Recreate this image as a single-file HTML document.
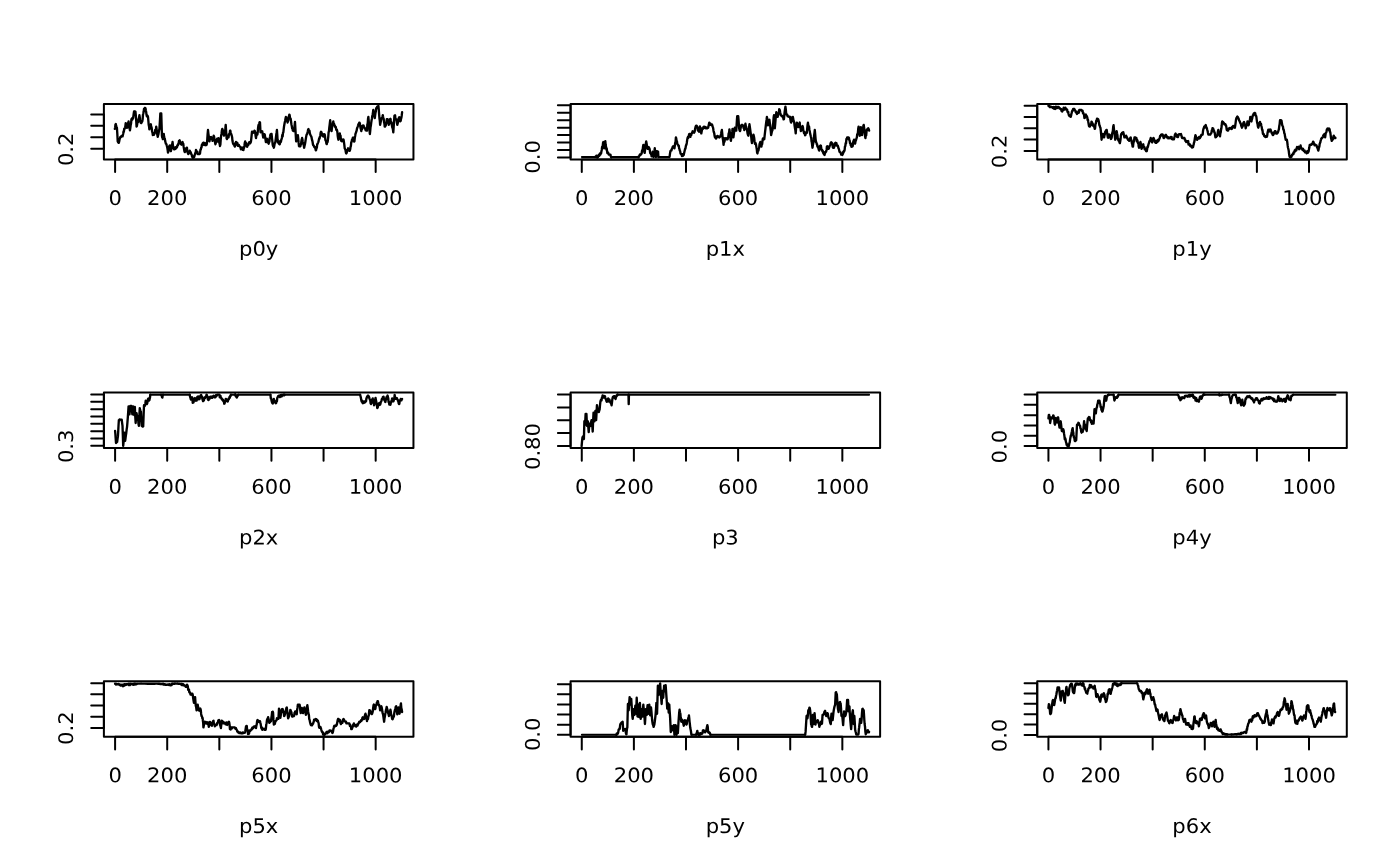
<!DOCTYPE html>
<html lang="en"><head><meta charset="utf-8"><title>plots</title>
<style>
html,body{margin:0;padding:0;background:#fff}
body{width:1400px;height:866px;overflow:hidden}
svg{display:block}
text{font-family:"DejaVu Sans","Liberation Sans",sans-serif;font-size:21.1px;fill:#000}
.l{fill:none;stroke:#000;stroke-width:2.35;stroke-linecap:round;stroke-linejoin:round}
.b{fill:none;stroke:#000;stroke-width:2.0;stroke-linecap:round;stroke-linejoin:round}
</style></head><body>
<svg width="1400" height="866" viewBox="0 0 1400 866">
<rect width="1400" height="866" fill="#fff"/>
<g id="panel0">
<polyline class="l" points="114.86,128.86 115.16,127.46 115.47,124.48 115.77,124.06 116.15,125.88 116.53,126.93 116.91,127.71 117.31,133.6 117.71,141.43 118.1,142.08 118.48,142.76 118.86,142.8 119.24,141.14 119.62,139.24 120,138 120.32,137.01 120.63,136.83 120.95,137.09 121.27,136.44 121.59,135.92 121.9,135.87 122.22,135.84 122.54,136.37 122.86,135.14 123.2,133.74 123.54,131.4 123.89,131.67 124.23,128.67 124.57,128.86 124.95,127.8 125.33,126.55 125.71,123.14 126.1,124.96 126.48,124.91 126.86,127.94 127.2,126.93 127.54,127.49 127.89,123.27 128.23,123.29 128.57,121.43 128.91,124.74 129.26,126.2 129.6,128.33 129.94,130.23 130.31,128.04 130.69,125.07 131.06,123.48 131.43,119.14 131.77,119.08 132.11,118.33 132.46,119.54 132.8,117.73 133.14,118 133.45,115.67 133.75,113.47 134.06,111.49 134.4,111.77 134.74,111.49 135.09,111.49 135.43,111.71 135.81,115.42 136.19,120.46 136.57,126.57 136.91,125.88 137.26,123.8 137.6,122.25 137.94,122.24 138.29,120.86 138.67,118.82 139.05,117.75 139.43,115.14 139.81,117.74 140.19,120.08 140.57,122.57 140.91,122.97 141.26,122.97 141.6,122.48 141.94,121.96 142.29,121.43 142.63,119.39 142.97,114.7 143.31,113.51 143.66,111.77 144,108.86 144.37,109.26 144.74,107.98 145.11,107.89 145.49,108.29 145.83,110.27 146.17,111.9 146.51,114.83 146.86,116.29 147.24,116.56 147.62,115.89 148,116.86 148.34,120.49 148.69,124.69 149.03,126.34 149.37,129.43 149.74,126.54 150.11,127.4 150.49,125.33 150.86,124.29 151.18,127.16 151.5,127.05 151.83,129.11 152.15,131.89 152.48,132.34 152.8,135.14 153.14,134.36 153.49,134.85 153.83,134.8 154.17,134.47 154.51,132.96 154.86,132.86 155.2,129.86 155.54,130.8 155.89,130.03 156.23,126.57 156.6,128.97 156.97,133.23 157.34,134.75 157.71,136.86 158.06,135.48 158.4,134.36 158.74,132.33 159.09,130.21 159.43,128.86 159.73,124.14 160.04,119.04 160.34,113.43 161.26,113.43 161.6,124.76 161.94,135.71 162.25,137.56 162.55,137.83 162.86,139.14 163.16,136.31 163.47,136.45 163.77,134 164.11,136.86 164.46,138.38 164.8,138.65 165.14,140.86 165.49,142.34 165.83,143.72 166.17,143.83 166.51,144.42 166.86,146 167.24,147.36 167.62,149.7 168,152.63 168.34,151.22 168.69,150.19 169.03,148.45 169.37,145.89 169.71,145.43 170.1,146.49 170.48,149.58 170.86,151.14 171.2,149.64 171.54,146 171.89,144.51 172.23,144.6 172.57,142 172.95,145.92 173.33,146.6 173.71,148.86 174.04,149.26 174.37,148.98 174.69,149.26 175.02,148.17 175.35,148.96 175.67,147.31 176,147.71 176.33,148.11 176.65,147.09 176.98,147.27 177.31,145.42 177.63,145.02 177.96,145.11 178.29,143.71 178.63,143.81 178.97,140.94 179.31,141.47 179.66,140.29 180.03,142.73 180.4,142.23 180.77,143.38 181.14,144.29 181.49,144.68 181.83,142.72 182.17,142.55 182.51,142 182.89,143.28 183.26,143.69 183.63,146.64 184,148.86 184.38,151.06 184.76,152.11 185.14,151.71 185.51,149.78 185.89,148.83 186.26,148.23 186.63,147.71 186.95,147.7 187.27,150.59 187.59,152.51 187.91,152.78 188.23,154 188.6,153.52 188.97,151.61 189.34,153.05 189.71,150.57 190.06,152.23 190.4,151.84 190.74,152.6 191.09,153.43 191.43,154.57 191.77,154.85 192.11,156.83 192.46,155.99 192.8,157.83 193.14,157.43 193.52,157.63 193.9,156.46 194.29,156.86 194.63,155.08 194.97,154.39 195.31,152.97 195.66,152.85 196,150 196.34,150.78 196.69,151.92 197.03,152.29 197.37,151.76 197.71,154 199.66,154 200.03,153.26 200.4,149.8 200.77,149.84 201.14,147.71 201.49,147.52 201.83,145 202.17,145.33 202.51,143.71 202.86,143.14 203.2,142.74 203.54,143.3 203.89,142.74 204.23,144.97 204.57,144.86 204.9,143.39 205.22,143.31 205.55,145.06 205.88,145.26 206.2,143.79 206.53,144.88 206.86,143.71 207.24,139.76 207.62,134.02 208,130 208.38,133.56 208.76,136.26 209.14,140.86 209.47,141.26 209.8,139.46 210.12,138.68 210.45,138.46 210.78,137.17 211.1,137.03 211.43,137.43 211.81,139.13 212.19,139.22 212.57,140.86 212.95,139.31 213.33,138.31 213.71,135.71 214.06,136.43 214.4,138.81 214.74,139.46 215.09,142.69 215.43,144.29 215.77,142.89 216.11,141.88 216.46,142.2 216.8,141.03 217.14,138.57 217.49,139.28 217.83,139.71 218.17,141.26 218.51,138.23 218.86,140.86 219.24,142.56 219.62,143.71 220,146 220.38,144.57 220.76,139.02 221.14,135.71 221.52,133.72 221.9,130.29 222.29,128.86 222.63,130.26 222.97,131.34 223.31,133.29 223.66,134.73 224,135.71 224.34,133.16 224.69,130.63 225.03,129.58 225.37,128.16 225.71,124.86 226.02,129.75 226.32,134.13 226.63,138.57 226.95,138.97 227.28,137.36 227.6,137.78 227.92,137.03 228.25,137.5 228.57,137.43 228.91,134.06 229.26,134.8 229.6,134 229.94,131.04 230.29,130.57 230.67,132.56 231.05,133.83 231.43,134.57 231.77,135.73 232.11,137.22 232.46,140.79 232.8,142.36 233.14,143.71 233.49,144.09 233.83,144.87 234.17,143.67 234.51,146.13 234.86,146.57 235.24,145.47 235.62,144.19 236,142 236.33,142.67 236.65,143.93 236.98,143.21 237.31,142.8 237.63,145.31 237.96,145.83 238.29,145.43 238.61,145.03 238.94,145.03 239.27,146.18 239.59,146.46 239.92,146.79 240.24,146.72 240.57,147.71 240.89,149.3 241.21,148.59 241.52,147.67 241.84,148.45 242.16,148.17 242.48,148.91 242.79,149.87 243.11,147.45 243.43,150 243.77,147.56 244.11,147.64 244.46,145.5 244.8,142.71 245.14,141.43 245.49,143.39 245.83,142.86 246.17,144.34 246.51,145.97 246.86,146.57 247.2,146.73 247.54,145.59 247.89,144.12 248.23,145.19 248.57,143.71 248.9,142.43 249.22,142.74 249.55,142.22 249.88,141.9 250.2,143.4 250.53,142.17 250.86,142 251.24,139.05 251.62,135.32 252,131.71 252.34,131.98 252.69,132.69 253.03,131.73 253.37,132.69 253.71,132.29 254.1,132.06 254.48,130.74 254.86,131.14 255.24,132.49 255.62,136.13 256,138 256.34,135.64 256.69,134.72 257.03,134.45 257.37,134.49 257.71,132.29 258.1,127.65 258.48,125.14 258.86,124.29 259.24,123.34 259.62,122.17 260,122.57 260.49,132.29 260.83,132.19 261.17,130.97 261.51,131.35 261.86,131.14 262.2,131.35 262.54,133 262.89,135.63 263.23,137.49 263.57,137.43 263.95,136.17 264.33,134.17 264.71,134.57 265.1,136.81 265.48,139.34 265.86,142 266.23,141.75 266.6,141.93 266.97,138.79 267.34,139.14 267.69,140.78 268.03,140.77 268.37,143.09 268.71,143.71 269.06,141.08 269.4,141.77 269.74,138.1 270.09,136.48 270.43,134.57 270.81,134.03 271.19,133.92 271.57,134 271.95,138.07 272.33,140.92 272.71,144.86 273.1,146.29 273.48,145.84 273.86,147.71 274.2,146.25 274.54,144.28 274.89,143.01 275.23,142.78 275.57,140.29 275.91,137.57 276.26,134.64 276.6,132.52 276.94,130 277.25,134.54 277.55,139.48 277.86,142 278.2,142.56 278.54,141.6 278.89,143.7 279.23,144.05 279.57,144.29 279.91,143.75 280.26,141.03 280.6,141.99 280.94,141.75 281.29,139.71 281.63,138.99 281.97,137.45 282.31,134.94 282.66,136.28 283,132.86 283.34,132.45 283.69,129.16 284.03,126.35 284.37,124.55 284.71,122.57 285.1,120.91 285.48,118.74 285.86,116.86 286.2,117.68 286.54,119.3 286.89,120.24 287.23,121.05 287.57,122.57 287.91,121.19 288.26,120.65 288.6,116.77 288.94,117.6 289.29,114.57 289.63,114.95 289.97,117.67 290.31,118.44 290.66,118.57 291.03,121.23 291.4,124.15 291.77,125.88 292.14,128.29 292.49,128.5 292.83,130.67 293.17,128.83 293.51,130.94 293.86,131.14 294.24,129.04 294.62,125.36 295,122 295.38,128.56 295.76,135.3 296.14,141.43 296.49,140.01 296.83,138 297.17,138.26 297.51,137.48 297.86,135.14 298.24,138.3 298.62,142.63 299,146 299.34,146.34 299.69,144.97 300.03,145.06 300.37,146.36 300.71,144.86 301.06,144.09 301.4,141 301.74,139.65 302.09,138 302.43,139.32 302.77,141.88 303.11,143.55 303.46,144.19 303.8,145.47 304.14,147.71 304.49,145.91 304.83,144.69 305.17,143.03 305.51,140.78 305.86,138.57 306.18,136.63 306.51,135.02 306.84,134.26 307.16,134.11 307.49,132.4 307.82,131.3 308.14,129.43 308.49,129.03 308.83,131.34 309.17,131.47 309.51,130.88 309.86,133.43 310.2,134.44 310.54,135.09 310.89,135.85 311.23,136.38 311.57,137.43 311.91,139.38 312.26,140.58 312.6,142.03 312.94,144.33 313.29,145.43 313.63,145.37 313.97,146.21 314.31,147.2 314.66,146.82 315,147.14 315.38,148.44 315.76,150.4 316.14,150 316.49,147.42 316.83,147.86 317.17,144.37 317.51,144 317.86,143.14 318.2,142.35 318.54,141.38 318.89,139.62 319.23,138.17 319.57,138.57 319.94,136.47 320.31,135.76 320.69,132.58 321.06,131.71 321.38,132.04 321.7,133.24 322.03,133.75 322.35,135.16 322.68,136.05 323,136.29 323.34,135.97 323.69,136.4 324.03,134.17 324.37,134.67 324.71,134.57 325.06,136.63 325.4,140.19 325.74,140.56 326.09,141.45 326.43,143.71 326.81,144.11 327.19,142.02 327.57,142 327.91,139.85 328.26,136.82 328.6,132.1 328.94,131.54 329.29,127.71 329.59,125.28 329.9,122.7 330.2,120.29 330.54,124.75 330.89,125.7 331.23,128.69 331.57,131.14 331.91,128.02 332.26,126.49 332.6,125.41 332.94,122.81 333.29,121.43 333.63,123.72 333.97,123.64 334.31,124.65 334.66,125.11 335,126.57 335.34,127.12 335.69,126.79 336.03,128.57 336.37,129.83 336.71,129.43 337.06,130.37 337.4,132.24 337.74,136.09 338.09,138.37 338.43,139.71 338.77,138.24 339.11,136.7 339.46,135.95 339.8,133.43 340.17,137.04 340.54,135.61 340.91,139.49 341.29,140.86 341.61,139.79 341.94,141.26 342.27,140.6 342.59,140.01 342.92,139.31 343.24,139.31 343.57,139.71 343.95,142.13 344.33,144.87 344.71,148.29 345.06,149.05 345.4,149.47 345.74,151.66 346.09,153.32 346.43,153.43 346.77,152.59 347.11,149.92 347.46,150.6 347.8,150.19 348.14,148.29 348.49,149.46 348.83,149.57 349.17,149.32 349.51,150.91 349.86,150.57 350.2,149.28 350.54,146.84 350.89,145.99 351.23,142.37 351.57,142 351.95,139.97 352.33,139.61 352.71,138 353.06,137.6 353.4,138.28 353.74,138.96 354.09,141.57 354.43,141.43 354.81,137.77 355.19,135.77 355.57,133.43 355.91,132.92 356.26,131.55 356.6,130.83 356.94,128.79 357.29,127.71 357.61,126.87 357.94,125.87 358.27,124.75 358.59,123.95 358.92,124.19 359.24,122.61 359.57,122.57 359.91,123.53 360.26,126.27 360.6,128.34 360.94,129.24 361.29,131.14 361.63,128.79 361.97,129.33 362.31,126 362.66,126.39 363,125.43 363.33,126.8 363.65,125.63 363.98,127.36 364.31,127.19 364.63,127.87 364.96,128.69 365.29,128.29 365.63,130.23 365.97,129.65 366.31,130.6 366.66,130.25 367,130.57 367.34,124.36 367.69,123.48 368.03,118.76 368.37,116.86 368.74,121.01 369.11,126.25 369.49,129.58 369.86,134 370.2,131.2 370.54,127.2 370.89,125.43 371.23,122.58 371.57,120.29 371.91,118.7 372.26,116.03 372.6,114.68 372.94,112.62 373.29,110 373.66,111.97 374.03,113.11 374.4,115.73 374.77,118 375.11,115.56 375.46,112.94 375.8,111.55 376.14,108.29 376.47,107.88 376.8,107.97 377.12,106.93 377.45,106.37 377.78,108.03 378.1,107.29 378.43,106 378.77,109.51 379.11,114.27 379.46,118.52 379.8,120.54 380.14,124.86 380.52,122.85 380.9,121.04 381.29,119.14 381.66,118.38 382.03,117.5 382.4,116.84 382.77,115.14 383.1,116.73 383.42,118.07 383.74,119.15 384.07,122.36 384.39,123.47 384.71,126.57 385.06,126.51 385.4,123.26 385.74,125.61 386.09,122.84 386.43,122.57 386.81,119.12 387.19,120.41 387.57,119.14 387.95,120.76 388.33,123.13 388.71,124.86 389.06,123.98 389.4,123.49 389.74,120.75 390.09,119.14 390.46,118.74 390.83,120.74 391.2,122.2 391.57,122.57 391.91,125.56 392.26,127.21 392.6,128.1 392.94,129.51 393.29,132.29 393.67,127.09 394.05,121.3 394.43,115.71 394.77,116 395.11,115.31 395.46,119.3 395.8,118.9 396.14,119.14 396.52,119.57 396.9,122.68 397.29,124.86 397.63,123.47 397.97,122.55 398.31,120.38 398.66,118.89 399,117.43 399.34,117.19 399.69,118.38 400.03,119.14 400.37,121.26 400.71,120.86 401.06,118.5 401.4,117.69 401.74,115.38 402.09,112.29"/>
<rect class="b" x="103.89" y="103.89" width="309.56" height="55.54"/>
<path class="b" d="M115.1,159.43v12.67M167.21,159.43v12.67M219.33,159.43v12.67M271.44,159.43v12.67M323.56,159.43v12.67M375.67,159.43v12.67M103.89,114.39h-12.67M103.89,125.84h-12.67M103.89,137.19h-12.67M103.89,148.74h-12.67M115.1,159.43H375.67M103.89,114.39V148.74"/>
<text transform="translate(115.1,205.04) rotate(0.1) scale(1,0.955)" text-anchor="middle">0</text>
<text transform="translate(167.21,205.04) rotate(0.1) scale(1,0.955)" text-anchor="middle">200</text>
<text transform="translate(271.44,205.04) rotate(0.1) scale(1,0.955)" text-anchor="middle">600</text>
<text transform="translate(375.67,205.04) rotate(0.1) scale(1,0.955)" text-anchor="middle">1000</text>
<text transform="translate(258.67,255.72) rotate(0.1) scale(1,0.955)" text-anchor="middle">p0y</text>
<text transform="translate(73.09,149.29) rotate(-89.9) scale(1,0.955)" text-anchor="middle">0.2</text>
</g>
<g id="panel1">
<polyline class="b" points="581.86,157.09 595,157.09"/>
<polyline class="l" points="595,157.09 595.34,156.96 595.69,156.41 596.03,156.57 596.37,155.66 596.71,156.06 597.1,157.49 597.48,157.49 597.86,157.09 598.2,156.77 598.54,155.28 598.89,154.76 599.23,155.9 599.57,154.57 599.94,153.44 600.31,154.61 600.69,153.51 601.06,153.43 601.4,151.55 601.74,149.9 602.09,147.03 602.43,146.57 602.73,146.17 603.04,142.93 603.34,142 603.74,144.41 604.14,148.29 604.52,144.84 604.9,143.92 605.29,141.2 605.69,145.04 606.09,147.14 606.39,149.73 606.7,148.31 607,150.57 607.34,153 607.69,152.37 608.03,152.44 608.37,153.15 608.71,154.57 610.43,154.57 610.81,156.5 611.19,157.41 611.57,157.09"/>
<polyline class="b" points="611.57,157.09 637.86,157.09"/>
<polyline class="l" points="637.86,157.09 638.2,156.67 638.54,157.38 638.89,156.83 639.23,156 639.57,155.14 639.91,154.38 640.26,155.12 640.6,154.57 640.94,154.41 641.29,154 641.67,153.43 642.05,150.55 642.43,150 642.73,149.34 643.04,146.61 643.34,144.86 643.69,146.91 644.03,148.32 644.37,152.25 644.71,152.86 645.09,149.34 645.46,144.83 645.83,143.71 646.2,141.43 646.54,143.33 646.89,145.36 647.23,146.65 647.57,148.86 647.95,148.65 648.33,148.09 648.71,147.14 649.1,148.15 649.48,148.47 649.86,150.57 650.2,152.99 650.54,153.19 650.89,154.09 651.23,154.39 651.57,156.29 651.95,154.67 652.33,154.42 652.71,151.71 653.11,154.56 653.51,157.09 653.83,155.03 654.14,152.46 654.46,150.77 654.77,148.29 655.15,151.51 655.53,153.01 655.91,157.09 656.31,154.3 656.71,151.14 657.06,151.17 657.4,152.11 657.74,152.11 658.09,151.71 658.43,157.09"/>
<polyline class="b" points="658.43,157.09 669.29,157.09"/>
<polyline class="l" points="669.29,157.09 669.67,156.08 670.05,153.19 670.43,151.14 670.77,150.96 671.11,150.31 671.46,150.4 671.8,149.16 672.14,148.29 672.52,147.48 672.9,146.39 673.29,146.57 673.67,146.51 674.05,146.33 674.43,148.29 674.8,145.79 675.17,142.84 675.54,141.86 675.91,137.43 676.26,138.62 676.6,141.27 676.94,141.14 677.29,143.71 677.67,144.46 678.05,144.84 678.43,146 678.77,145.61 679.11,148.41 679.46,148.86 679.8,150.67 680.14,151.14 680.52,153.54 680.9,153.56 681.29,154.57 681.63,154.2 681.97,156.11 682.31,154.18 682.66,155.85 683,155.71 683.34,154.84 683.69,154.98 684.03,153.53 684.37,152.01 684.71,150.57 685.06,148.99 685.4,148.7 685.74,146.8 686.09,145.04 686.43,144.86 686.81,142.77 687.19,139.92 687.57,138 687.91,137.01 688.26,137.96 688.6,136.22 688.94,134.99 689.29,134 689.67,134.03 690.05,135.15 690.43,136.86 690.81,134.5 691.19,135.12 691.57,133.43 691.91,133.32 692.26,132.51 692.6,131.31 692.94,131.65 693.29,131.71 693.67,132.06 694.05,132.69 694.43,132.29 694.8,130.96 695.17,128.5 695.54,126.99 695.91,126 696.26,125.6 696.6,125.6 696.94,126.24 697.29,127.14 697.63,128.12 697.97,130.59 698.31,128.6 698.66,129.1 699,131.71 699.3,130.29 699.61,127.75 699.91,126.34 700.26,128.28 700.6,128.1 700.94,131.38 701.29,133.43 701.67,131.51 702.05,129.49 702.43,128.29 702.77,128.69 703.11,128.69 703.46,126.94 703.8,126.74 704.14,127.14 704.49,127.07 704.83,126.74 705.17,127.95 705.51,127.15 705.86,128.29 706.18,128.32 706.51,128.33 706.84,127.73 707.16,127.87 707.49,128.2 707.82,127.56 708.14,127.71 708.52,126.03 708.9,124.24 709.29,122.57 709.66,124.33 710.03,124.81 710.4,123.63 710.77,124.86 711.09,124.9 711.41,124.7 711.73,125.08 712.05,124.46 712.37,126 712.74,126.94 713.11,127.88 713.49,130.68 713.86,132.29 714.24,133.24 714.62,135.98 715,137.43 715.38,137.34 715.76,137.88 716.14,138.57 716.49,136.46 716.83,137.34 717.17,137.14 717.51,136 717.86,136.29 718.2,136.69 718.54,136.92 718.89,136.5 719.23,137.46 719.57,137.43 719.95,136.38 720.33,136.54 720.71,135.71 721.1,133.8 721.48,131.5 721.86,130 722.26,133.57 722.66,138 722.96,139.6 723.27,141.86 723.57,144.86 723.91,141.56 724.26,142.07 724.6,141.18 724.94,138.23 725.29,138.57 725.63,139.05 725.97,138.17 726.31,139.05 726.66,139.27 727,139.14 727.32,138.68 727.64,139.21 727.96,137.83 728.29,136.86 728.67,133.41 729.05,133.29 729.43,129.43 729.8,132.06 730.17,134.94 730.54,139.07 730.91,140.86 731.23,138.4 731.55,136.48 731.87,133.75 732.19,131.98 732.51,128.86 732.82,130.22 733.12,134.54 733.43,137.43 733.77,134.51 734.11,132.06 734.46,131.11 734.8,127.71 735.17,129.37 735.54,128.41 735.91,129.2 736.29,130.57 736.59,125.68 736.9,120.3 737.2,116.29 738.23,116.29 738.53,119.97 738.84,124.24 739.14,128.29 739.54,130.25 739.94,131.14 740.26,130.61 740.57,128.45 740.89,127 741.2,125.43 741.54,124.97 741.89,125.83 742.23,124.96 742.57,124.86 742.91,125.83 743.26,126.21 743.6,128.1 743.94,127.91 744.29,130 744.67,127.74 745.05,125.82 745.43,123.71 745.8,126.03 746.17,126.82 746.54,129.05 746.91,128.86 747.26,131.33 747.6,133.58 747.94,134.76 748.29,135.71 748.67,130.93 749.05,127.57 749.43,124.29 749.81,126.8 750.19,129.53 750.57,132.29 750.91,134.49 751.26,137.23 751.6,140.92 751.94,143.14 752.31,140.34 752.69,139.86 753.06,136.8 753.43,134.57 753.81,136.08 754.19,138 754.57,141.43 754.94,143.83 755.31,142.51 755.69,143.64 756.06,144.86 756.4,147.13 756.74,148.92 757.09,152.48 757.43,153.43 757.77,151.51 758.11,150.74 758.46,150.7 758.8,148.29 759.17,147.61 759.54,144.11 759.91,143.32 760.29,142 760.67,143.14 761.05,144.41 761.43,146.57 761.8,144.28 762.17,144.05 762.54,140.3 762.91,138.57 763.26,138.37 763.6,139.54 763.94,138.71 764.29,139.14 764.67,135.36 765.05,132.2 765.43,128.86 765.8,125.76 766.17,122.56 766.54,120.01 766.91,116.86 767.26,118.68 767.6,122.34 767.94,125.43 768.31,122.61 768.69,124.65 769.06,120.33 769.43,119.71 769.77,122.59 770.11,124.6 770.46,128.56 770.8,131.07 771.14,135.14 771.49,133.41 771.83,131.83 772.17,130.74 772.51,130 772.89,126.46 773.26,122.56 773.63,117.5 774,115.14 774.4,121.51 774.8,128.29 775.17,124.41 775.54,119.58 775.91,115.82 776.29,112.29 776.63,114.26 776.97,114.49 777.31,115.14 777.66,116.86 777.96,115.64 778.27,114.53 778.57,112.97 778.88,113.03 779.18,109.22 779.49,109.43 779.83,110.17 780.17,112.53 780.51,113.7 780.86,115.14 781.2,115.71 781.54,115.83 781.89,115.65 782.23,116.31 782.57,116.86 782.91,116.9 783.26,117.92 783.6,119.43 783.94,119.14 784.31,115.22 784.69,111.63 785.06,108.99 785.43,106.57 785.81,109.35 786.19,113.53 786.57,114.57 786.91,114.32 787.26,114.63 787.6,116.39 787.94,116.23 788.29,116.29 788.63,116.48 788.97,116.75 789.31,116.56 789.66,116.65 790,116.86 790.38,119.22 790.76,121.68 791.14,122.57 791.49,121.62 791.83,121.09 792.17,117.1 792.51,118.54 792.86,116.86 793.2,118.58 793.54,120.79 793.89,121.28 794.23,122.57 794.6,125.75 794.97,128.16 795.34,129.95 795.71,133.43 796.1,128.2 796.48,126.7 796.86,122.57 797.2,124.44 797.54,123.83 797.89,126.27 798.23,127.14 798.6,125.49 798.97,124.77 799.34,123.77 799.71,122.57 800.1,127.27 800.48,127.98 800.86,131.14 801.2,130.3 801.54,129.48 801.89,128.64 802.23,126.82 802.57,126 802.95,127.4 803.33,130.65 803.71,131.71 804.06,133.1 804.4,131.89 804.74,133.28 805.09,135.25 805.43,135.14 805.77,133.27 806.11,132.76 806.46,133.04 806.8,132.86 807.18,129.03 807.56,124.88 807.94,122.57 808.31,125.36 808.69,126.41 809.06,126.63 809.43,130 809.8,131.53 810.17,133.87 810.54,135.18 810.91,136.86 811.23,137.9 811.55,141.42 811.87,142.54 812.19,145.49 812.51,147.71 812.83,145.33 813.14,143.7 813.46,141.99 813.77,139.71 814.11,135.71 814.46,132.86 814.8,130 815.18,133.99 815.56,138.82 815.94,142 816.31,142.26 816.69,143.96 817.06,144.22 817.43,146.57 817.77,146.17 818.11,147.5 818.46,148.25 818.8,149.86 819.14,150.57 819.49,149.96 819.83,147.04 820.17,145.83 820.51,145.43 820.89,145.67 821.26,148.15 821.63,149.12 822,150 822.33,151.22 822.65,150.46 822.98,152.1 823.31,153.29 823.63,152.05 823.96,154.31 824.29,154.57 824.63,154.91 824.97,152.22 825.31,152.81 825.66,152.14 826,151.71 826.3,150.98 826.61,149.66 826.91,146.57 827.23,146.17 827.55,147.87 827.87,147.03 828.19,148.77 828.51,148.86 828.89,148.31 829.26,147.1 829.63,145.91 830,145.43 830.37,144.37 830.74,142.83 831.11,142.32 831.49,142.57 831.81,143.47 832.13,143.16 832.46,144.36 832.78,147.18 833.1,147.87 833.43,147.71 833.77,147.81 834.11,147.23 834.46,145.76 834.8,143.68 835.14,143.14 835.47,142.74 835.8,144.5 836.12,145.32 836.45,143.17 836.78,145.69 837.1,145.36 837.43,145.43 837.77,145.74 838.11,146.68 838.46,148.11 838.8,148.76 839.14,150 839.49,151.69 839.83,151.88 840.17,152.29 840.51,152.43 840.86,153.43 841.2,154.55 841.54,153.83 841.89,154.42 842.23,154.97 842.57,154.57 842.91,153.75 843.26,151.7 843.6,152.48 843.94,151.02 844.29,151.14 844.63,149.91 844.97,146.32 845.31,146.17 845.66,143.14 846.03,143.51 846.4,139.02 846.77,139.54 847.14,137.43 848.63,137.43 848.97,137.91 849.31,140.2 849.66,140.57 850,143.14 850.33,143 850.65,145.01 850.98,143.73 851.31,146.74 851.63,146.03 851.96,146.04 852.29,146.57 852.63,146.15 852.97,144.53 853.31,141.31 853.66,140.87 854,139.71 854.38,142.48 854.76,142.59 855.14,143.71 855.49,141.22 855.83,140.7 856.17,139.44 856.51,138.33 856.86,137.43 857.2,134.39 857.54,134.05 857.89,132.76 858.23,128.62 858.57,126.57 858.95,129.88 859.33,133.32 859.71,135.71 860.1,133.07 860.48,131.72 860.86,127.14 861.24,130.39 861.62,131.08 862,135.14 862.34,131.95 862.69,131.66 863.03,128.89 863.37,125.78 863.71,124.86 864.06,127.36 864.4,129.62 864.74,133.66 865.09,136.41 865.43,138 865.8,134.98 866.17,135.5 866.54,131.44 866.91,129.43 867.26,129.83 867.6,129.83 867.94,128.3 868.29,128.29 868.69,129.03 869.09,130.57"/>
<rect class="b" x="570.56" y="103.89" width="309.56" height="55.54"/>
<path class="b" d="M581.77,159.43v12.67M633.88,159.43v12.67M685.99,159.43v12.67M738.11,159.43v12.67M790.22,159.43v12.67M842.34,159.43v12.67M570.56,105.29h-12.67M570.56,112.75h-12.67M570.56,120.21h-12.67M570.56,127.67h-12.67M570.56,135.12h-12.67M570.56,142.58h-12.67M570.56,150.04h-12.67M570.56,157.49h-12.67M581.77,159.43H842.34M570.56,105.29V157.49"/>
<text transform="translate(581.77,205.04) rotate(0.1) scale(1,0.955)" text-anchor="middle">0</text>
<text transform="translate(633.88,205.04) rotate(0.1) scale(1,0.955)" text-anchor="middle">200</text>
<text transform="translate(738.11,205.04) rotate(0.1) scale(1,0.955)" text-anchor="middle">600</text>
<text transform="translate(842.34,205.04) rotate(0.1) scale(1,0.955)" text-anchor="middle">1000</text>
<text transform="translate(725.34,255.72) rotate(0.1) scale(1,0.955)" text-anchor="middle">p1x</text>
<text transform="translate(539.75,156.94) rotate(-89.9) scale(1,0.955)" text-anchor="middle">0.0</text>
</g>
<g id="panel2">
<polyline class="l" points="1048.43,105.77 1048.77,105.37 1049.11,106.12 1049.46,106.53 1049.8,107.1 1050.14,106.91 1050.46,106.61 1050.78,107.05 1051.1,106.78 1051.41,106.84 1051.73,107.09 1052.05,107.25 1052.37,107.34 1052.68,107.77 1053,107.37 1053.34,106.97 1053.69,108.46 1054.03,107.66 1054.37,107.36 1054.71,108.86 1055.06,108.98 1055.4,108.94 1055.74,106.76 1056.09,106.74 1056.43,107.14 1056.76,107.06 1057.08,108.11 1057.41,107.67 1057.73,107.07 1058.06,106.74 1058.39,107.19 1058.71,107.71 1059.06,107.33 1059.4,108.41 1059.74,108.51 1060.09,108.28 1060.43,108.86 1060.81,109.39 1061.19,109.25 1061.57,111.14 1061.91,109.6 1062.26,111.54 1062.6,110.1 1062.94,109.93 1063.29,110 1063.67,107.66 1064.05,109.7 1064.43,108.06 1064.76,109.51 1065.08,109.19 1065.41,107.66 1065.73,108.41 1066.06,109.33 1066.39,109.07 1066.71,109.43 1067.1,109.56 1067.48,111.74 1067.86,112.29 1068.23,111.89 1068.6,114.07 1068.97,115.32 1069.34,115.71 1069.69,116.19 1070.03,116.3 1070.37,115.31 1070.71,116.86 1071.06,115.76 1071.4,113.89 1071.74,112.63 1072.09,111.14 1072.46,110.47 1072.83,110.15 1073.2,108.87 1073.57,108.86 1073.91,110.19 1074.26,108.98 1074.6,109.43 1074.94,110.31 1075.29,110.57 1075.63,111.87 1075.97,111.43 1076.31,112.8 1076.66,113.25 1077,114 1077.38,113.22 1077.76,112.95 1078.14,112.29 1078.52,111.21 1078.9,112.69 1079.29,110 1081.57,110 1081.91,110.45 1082.26,111.35 1082.6,110.82 1082.94,113.17 1083.29,112.86 1083.67,114.29 1084.05,114.83 1084.43,118 1084.77,117.86 1085.11,116.93 1085.46,114.69 1085.8,114.57 1086.17,115.68 1086.54,115.7 1086.91,116.5 1087.29,117.43 1087.63,120.14 1087.97,119.74 1088.31,121.99 1088.66,123.93 1089,126 1089.34,126.4 1089.69,125.75 1090.03,126.4 1090.37,124.5 1090.71,124.86 1091.1,125.04 1091.48,121.6 1091.86,122 1092.23,122.81 1092.6,123.35 1092.97,125.05 1093.34,126 1093.69,125.6 1094.03,126.72 1094.37,126.89 1094.71,128.86 1095.1,128.13 1095.48,123.91 1095.86,123.71 1096.24,120.59 1096.62,121.3 1097,118.57 1097.34,119.96 1097.69,119.79 1098.03,118.98 1098.37,119.71 1098.68,120.9 1098.98,122.38 1099.29,124.86 1099.67,125.63 1100.05,126.91 1100.43,127.71 1100.81,130.61 1101.19,134.94 1101.57,139.71 1101.91,137.01 1102.26,136.91 1102.6,135.75 1102.94,134 1103.32,136.3 1103.7,135.32 1104.09,137.43 1104.47,135.58 1104.85,134.1 1105.23,131.71 1105.6,131.47 1105.97,130.39 1106.34,129.93 1106.71,130 1107.1,132.85 1107.48,135.47 1107.86,137.43 1108.23,137.67 1108.6,136.1 1108.97,134.44 1109.34,134.57 1109.67,134.91 1109.99,135.32 1110.31,136.79 1110.64,138.19 1110.96,138.97 1111.29,138.57 1111.67,137.64 1112.05,134.49 1112.43,132.29 1112.81,131.44 1113.19,126.74 1113.57,125.2 1113.97,129.37 1114.37,132.29 1114.68,134.7 1114.98,137.83 1115.29,139.71 1115.63,136.75 1115.97,135.79 1116.31,134.49 1116.66,131.14 1117.03,133.31 1117.4,134.97 1117.77,138.67 1118.14,139.71 1118.49,140.73 1118.83,139.31 1119.17,141.05 1119.51,142.56 1119.86,143.14 1120.2,141.59 1120.54,139.33 1120.89,135.48 1121.23,134 1121.57,134.11 1121.91,133.02 1122.26,133.41 1122.6,132.47 1122.94,132.73 1123.29,132.29 1123.67,134.15 1124.05,135.69 1124.43,137.43 1124.77,136.79 1125.11,137.37 1125.46,136.91 1125.8,136.96 1126.14,135.71 1126.51,136.44 1126.89,137.2 1127.26,138.39 1127.63,138.57 1127.95,139.73 1128.27,139.36 1128.59,140.12 1128.91,140.49 1129.23,140.86 1129.6,140.28 1129.97,139.59 1130.34,137.67 1130.71,137.43 1131.1,140.13 1131.48,140.16 1131.86,143.14 1132.24,144.08 1132.62,146.65 1133,146.57 1133.37,143.14 1133.74,141.94 1134.11,140.35 1134.49,137.43 1134.81,137.38 1135.13,137.39 1135.46,137.41 1135.78,137.66 1136.1,138.34 1136.43,138 1136.8,141.34 1137.17,139.96 1137.54,140.9 1137.91,143.14 1138.3,143.08 1138.68,146.36 1139.06,147.71 1139.4,147.23 1139.74,145.43 1140.09,143.31 1140.43,142 1140.81,143.64 1141.19,146.11 1141.57,148.86 1141.91,148.04 1142.26,147.4 1142.6,147.11 1142.94,145.6 1143.29,144.29 1143.63,146.88 1143.97,147.04 1144.31,146.98 1144.66,149.26 1145,148.86 1145.34,148.46 1145.69,149.57 1146.03,151.02 1146.37,150.8 1146.74,151.2 1147.11,149.28 1147.49,146.74 1147.86,147.14 1148.2,145.42 1148.54,144.24 1148.89,143.2 1149.23,142.2 1149.57,140.86 1149.95,141.05 1150.33,139.44 1150.71,138 1151.1,140.19 1151.48,140.83 1151.86,142 1152.2,142.38 1152.54,140.82 1152.89,139.55 1153.23,138.27 1153.57,138 1153.91,138.95 1154.26,139.87 1154.6,140.51 1154.94,141.7 1155.29,142.57 1155.63,142.78 1155.97,142.68 1156.31,142.86 1156.66,141.03 1157,141.43 1157.34,141.83 1157.69,139.89 1158.03,141.42 1158.37,141.17 1158.71,140.29 1159.06,139.63 1159.4,138.51 1159.74,138.19 1160.09,135.89 1160.43,136.29 1160.77,135.26 1161.11,134.64 1161.46,134.4 1161.8,135.21 1162.14,134.8 1162.49,134.4 1162.83,135 1163.17,135.81 1163.51,137.77 1163.86,138 1164.2,136.85 1164.54,136.54 1164.89,135.96 1165.23,135.12 1165.57,135.14 1165.91,134.81 1166.26,135.99 1166.6,137.4 1166.94,136.28 1167.29,137.43 1167.61,137.81 1167.94,137.04 1168.27,138.4 1168.59,137.65 1168.92,138.05 1169.24,138.03 1169.57,138 1169.91,138.26 1170.26,137.22 1170.6,137.03 1170.94,137.39 1171.29,137.43 1171.61,137.03 1171.94,139.18 1172.27,138.8 1172.59,139.28 1172.92,139.14 1173.24,139 1173.57,139.37 1173.91,139.33 1174.26,137.76 1174.6,136.72 1174.94,134.57 1175.29,134 1175.63,133.6 1175.97,134.58 1176.31,135.54 1176.66,134.86 1177,136.86 1177.34,136.99 1177.69,135.73 1178.03,137.08 1178.37,135.5 1178.71,134.57 1179.04,134.14 1179.37,134.07 1179.69,134.16 1180.02,134.47 1180.35,134.54 1180.67,134.11 1181,134 1181.38,135.24 1181.76,137.02 1182.14,138 1184.43,138 1184.77,139.63 1185.11,139.27 1185.46,141.16 1185.8,140.88 1186.14,142 1186.49,141.37 1186.83,141.23 1187.17,141.16 1187.51,142.26 1187.86,141.43 1188.2,141.03 1188.54,144.59 1188.89,144.06 1189.23,143.9 1189.57,144.29 1189.91,144.43 1190.26,145.98 1190.6,145.33 1190.94,146.4 1191.29,146 1191.63,146.08 1191.97,147.54 1192.31,147.54 1192.66,146.8 1193,147.14 1193.32,145.69 1193.64,144.71 1193.96,142.76 1194.29,142 1194.67,139.63 1195.05,137.23 1195.43,135.14 1195.77,136 1196.11,136.81 1196.46,137.64 1196.8,139.47 1197.14,139.71 1197.49,138.88 1197.83,138.17 1198.17,138.17 1198.51,138.17 1198.86,138.57 1199.2,136.85 1199.54,136.8 1199.89,138.21 1200.23,136.79 1200.57,136.86 1200.91,136.5 1201.26,134.96 1201.6,134.87 1201.94,134.98 1202.29,134.57 1202.63,134.59 1202.97,131.29 1203.31,129.4 1203.66,128.29 1204,127.37 1204.34,126.39 1204.69,127.55 1205.03,126.5 1205.37,125.43 1205.74,125.03 1206.11,126.77 1206.49,127.32 1206.86,128.29 1207.23,129.85 1207.6,130.99 1207.97,133.04 1208.34,134.57 1210.29,134.57 1210.67,133.98 1211.05,133.28 1211.43,132.86 1211.77,130.5 1212.11,131.5 1212.46,128.19 1212.8,128.29 1213.17,128.51 1213.54,130.67 1213.91,130.27 1214.29,132.29 1214.67,132.37 1215.05,135.17 1215.43,137.43 1215.77,136.47 1216.11,137.03 1216.46,136.48 1216.8,136.29 1217.17,135.9 1217.54,133.79 1217.91,131.42 1218.29,130 1218.63,132.69 1218.97,134.62 1219.31,132.99 1219.66,134.48 1220,136.29 1220.34,133.37 1220.69,132.28 1221.03,129.92 1221.37,128.29 1221.68,125.75 1221.98,122.55 1222.29,121.43 1222.63,122.15 1222.97,122.05 1223.31,122.28 1223.66,122.87 1224,123.14 1224.34,124.32 1224.69,124.39 1225.03,124.28 1225.37,124.15 1225.71,125.43 1226.06,125.36 1226.4,127.39 1226.74,129.97 1227.09,129.89 1227.43,130.57 1227.77,129.93 1228.11,130.58 1228.46,129.49 1228.8,128.3 1229.14,128.29 1229.47,128.79 1229.8,128 1230.12,128.54 1230.45,128.3 1230.78,128.07 1231.1,128.69 1231.43,128.86 1231.77,129.05 1232.11,127.05 1232.46,126.73 1232.8,127.61 1233.14,126 1233.49,126.23 1233.83,126.26 1234.17,127.17 1234.51,127.54 1234.86,127.71 1235.24,125.53 1235.62,122.84 1236,119.71 1236.34,118.23 1236.69,117.73 1237.03,117.27 1237.37,116.6 1237.71,116.86 1238.06,117.33 1238.4,118.81 1238.74,118.92 1239.09,120.51 1239.43,120.86 1239.77,121.41 1240.11,122.63 1240.46,123.27 1240.8,123.71 1241.18,125.47 1241.56,126.47 1241.94,127.71 1242.29,125.83 1242.63,126.39 1242.97,124.98 1243.31,123.14 1243.66,122.45 1244,122 1244.34,122.84 1244.69,123.93 1245.03,125.42 1245.37,126.17 1245.71,128.29 1246.06,126.65 1246.4,125.66 1246.74,125.41 1247.09,124.35 1247.43,121.43 1247.77,122.55 1248.11,123.53 1248.46,125.26 1248.8,124.86 1249.17,121.3 1249.54,120.92 1249.91,120.21 1250.29,116.86 1250.67,118.39 1251.05,120.33 1251.43,121.43 1251.8,119.45 1252.17,118.57 1252.54,116.31 1252.91,115.14 1253.23,115.34 1253.55,113.98 1253.87,113.46 1254.19,113.55 1254.51,112.86 1254.89,112.98 1255.26,113.4 1255.63,115.68 1256,115.71 1256.38,116.93 1256.76,120.07 1257.14,122.57 1257.52,123.81 1257.9,126.62 1258.29,127.71 1258.63,126.39 1258.97,125.46 1259.31,123.29 1259.66,124.33 1260,122 1260.34,122.99 1260.69,123.83 1261.03,123.91 1261.37,126.02 1261.71,127.14 1262.1,129.72 1262.48,130.02 1262.86,133.43 1263.2,134.17 1263.54,133.86 1263.89,134.33 1264.23,136.03 1264.57,136.29 1264.9,136.06 1265.22,136.77 1265.55,137.05 1265.88,136.09 1266.2,136.58 1266.53,136.73 1266.86,136.86 1267.24,135.44 1267.62,132.3 1268,131.14 1268.33,129.6 1268.65,130.71 1268.98,131.54 1269.31,130.02 1269.63,130.05 1269.96,129.6 1270.29,130 1270.63,129.6 1270.97,131.41 1271.31,131.61 1271.66,132.88 1272,132.86 1272.38,134.29 1272.76,135.12 1273.14,135.14 1273.49,134.31 1273.83,133.25 1274.17,132.11 1274.51,133.26 1274.86,131.14 1275.18,131.32 1275.51,131.26 1275.84,132.42 1276.16,133.53 1276.49,132.52 1276.82,132.87 1277.14,133.43 1277.49,132.52 1277.83,132.81 1278.17,131.52 1278.51,130.45 1278.86,129.43 1279.24,126.32 1279.62,124.31 1280,120.29 1281.14,120.29 1281.52,120.76 1281.9,123.33 1282.29,125.43 1282.63,126.07 1282.97,126.7 1283.31,129.68 1283.66,129.47 1284,131.14 1284.34,133.31 1284.69,133.87 1285.03,136.31 1285.37,137.92 1285.71,139.71 1286.86,139.71 1287.24,141.91 1287.62,145.16 1288,147.71 1288.37,149.02 1288.74,150.82 1289.11,154.05 1289.49,156.29 1289.81,157.02 1290.13,156.47 1290.46,157.21 1290.78,156.38 1291.1,156.89 1291.43,156.86 1291.76,155.74 1292.08,154.67 1292.41,154.67 1292.73,154.45 1293.06,153.4 1293.39,154.18 1293.71,152.29 1294.04,152.14 1294.37,152.43 1294.69,150.46 1295.02,151.14 1295.35,149.6 1295.67,149.6 1296,150 1296.34,150.4 1296.69,148.4 1297.03,147.06 1297.37,148.44 1297.71,147.14 1298.06,147.1 1298.4,146.74 1298.74,148.62 1299.09,149.23 1299.43,148.86 1299.81,147.17 1300.19,147.02 1300.57,145.43 1300.95,147.48 1301.33,148.4 1301.71,148.86 1302.04,148.59 1302.37,149.71 1302.69,149.42 1303.02,148.72 1303.35,150.05 1303.67,150.97 1304,150.57 1304.33,151.39 1304.65,150.64 1304.98,152.28 1305.31,151.76 1305.63,152.08 1305.96,152.37 1306.29,152.86 1306.61,153.26 1306.94,151.49 1307.27,152.38 1307.59,151.31 1307.92,152.77 1308.24,151.31 1308.57,151.71 1308.95,149.33 1309.33,147.54 1309.71,144.86 1310.04,145.22 1310.37,144.69 1310.69,144.84 1311.02,144.85 1311.35,144.88 1311.67,144.03 1312,144.29 1312.37,144.1 1312.74,143.3 1313.11,141.6 1313.49,142 1313.83,143.26 1314.17,143.75 1314.51,145.26 1314.86,144.86 1315.2,144.76 1315.54,144.71 1315.89,145.12 1316.23,145.83 1316.57,145.43 1316.91,146.98 1317.26,147.99 1317.6,147.57 1317.94,149.67 1318.29,150.57 1318.63,149.37 1318.97,146.95 1319.31,146.87 1319.66,144 1320,143.14 1320.34,142.23 1320.69,140.43 1321.03,139.6 1321.37,138.39 1321.71,138.57 1322.04,137.66 1322.37,137.6 1322.69,137.32 1323.02,136.32 1323.35,135.21 1323.67,136.54 1324,134.57 1324.38,134.17 1324.76,135.11 1325.14,137.43 1325.49,134.82 1325.83,132.59 1326.17,132.71 1326.51,131.44 1326.86,129.43 1327.2,128.97 1327.54,128.46 1327.89,129.17 1328.23,129.36 1328.57,128.86 1328.91,128.46 1329.26,130.61 1329.6,129.13 1329.94,131.82 1330.29,132.29 1330.66,135.04 1331.03,138.15 1331.4,139.35 1331.77,140.86 1332.1,140.33 1332.42,137.79 1332.74,139.44 1333.07,138.72 1333.39,136.59 1333.71,135.71 1334.06,136.28 1334.4,137.41 1334.74,137.96 1335.09,137.5 1335.43,138"/>
<rect class="b" x="1037.23" y="103.89" width="309.56" height="55.54"/>
<path class="b" d="M1048.43,159.43v12.67M1100.55,159.43v12.67M1152.66,159.43v12.67M1204.77,159.43v12.67M1256.89,159.43v12.67M1309,159.43v12.67M1037.23,105.69h-12.67M1037.23,116.99h-12.67M1037.23,128.29h-12.67M1037.23,139.59h-12.67M1037.23,150.89h-12.67M1048.43,159.43H1309M1037.23,105.69V150.89"/>
<text transform="translate(1048.43,205.04) rotate(0.1) scale(1,0.955)" text-anchor="middle">0</text>
<text transform="translate(1100.55,205.04) rotate(0.1) scale(1,0.955)" text-anchor="middle">200</text>
<text transform="translate(1204.77,205.04) rotate(0.1) scale(1,0.955)" text-anchor="middle">600</text>
<text transform="translate(1309,205.04) rotate(0.1) scale(1,0.955)" text-anchor="middle">1000</text>
<text transform="translate(1192.01,255.72) rotate(0.1) scale(1,0.955)" text-anchor="middle">p1y</text>
<text transform="translate(1006.42,151.44) rotate(-89.9) scale(1,0.955)" text-anchor="middle">0.2</text>
</g>
<g id="panel3">
<polyline class="l" points="115.09,431 115.39,434.24 115.7,439.01 116,443 116.38,442.47 116.76,441.46 117.14,441.86 117.54,438.82 117.94,436.14 118.25,430.86 118.55,425.01 118.86,420.14 119.24,420.54 119.62,419.43 120,419.57 121.71,419.57 122.11,422.82 122.51,425.86 122.86,435.65 123.2,445.86 123.58,442.17 123.96,438.13 124.34,432.71 124.74,435.98 125.14,440.71 125.52,438.21 125.9,435.26 126.29,432.71 126.67,429.42 127.05,426.84 127.43,422.43 127.81,417.63 128.19,411.98 128.57,406.43 128.88,409.06 129.18,411.75 129.49,414.43 129.89,409.99 130.29,405.86 131.43,405.86 131.73,408.84 132.04,411.67 132.34,414.43 132.74,412.13 133.14,406.43 133.52,408.81 133.9,412.56 134.29,415 134.86,407 135.26,416.34 135.66,423 135.96,418.93 136.27,416.5 136.57,413.29 136.88,415.27 137.18,416.01 137.49,416.71 137.83,420.29 138.17,419.97 138.51,423.96 138.86,425.86 139.16,419.96 139.47,413.62 139.77,408.14 140.15,410.15 140.53,411.42 140.91,411.57 141.31,419.06 141.71,425.86 142.09,425.72 142.46,426.4 142.83,425.96 143.2,426.43 143.6,415.24 144,405.29 144.4,406.26 144.8,405.86 145.1,404.71 145.41,403.2 145.71,400.71 146.1,401.52 146.48,403.14 146.86,404.14 147.24,403.22 147.62,401.02 148,399 148.34,398.6 148.69,399.56 149.03,400.54 149.37,400.14 149.68,398.65 149.98,397.73 150.29,394.66"/>
<polyline class="b" points="150.29,394.66 161.14,394.66"/>
<polyline class="l" points="161.14,394.66 161.45,395.36 161.75,395.86 162.06,397.29 162.4,397.51 162.74,394.71 163.09,394.66"/>
<polyline class="b" points="163.09,394.66 189.71,394.66"/>
<polyline class="l" points="189.71,394.66 190.1,396.93 190.48,397.97 190.86,399.57 191.24,398.85 191.62,397.82 192,397.29 192.37,397.71 192.74,402.83 193.11,402.1 193.49,402.43 193.87,400.69 194.25,399.34 194.63,398.43 194.97,398.03 195.31,399.53 195.66,398.9 196,400.71 196.34,400.08 196.69,400.55 197.03,398.38 197.37,396.84 197.71,396.71 198.09,396.96 198.46,396.48 198.83,399.29 199.2,399 199.52,398.97 199.85,397.42 200.17,397.34 200.5,395.7 200.82,395.4 201.14,395 201.52,396.08 201.9,396.67 202.29,398.43 202.67,399.89 203.05,401.11 203.43,400.71 203.77,400.71 204.11,399.67 204.46,397.46 204.8,397.91 205.14,397.86 205.49,397.27 205.83,396.49 206.17,396.35 206.51,394.67 206.86,395 207.2,395.99 207.54,396.91 207.89,399.47 208.23,398.15 208.57,400.14 208.91,397.42 209.26,397.86 209.6,398.7 209.94,397.87 210.29,396.71 210.63,397.58 210.97,397.01 211.31,396.73 211.66,397.85 212,397.86 212.34,396.46 212.69,397.11 213.03,396.81 213.37,397.04 213.71,395.57 214.06,396.33 214.4,396.24 214.74,397.32 215.09,397.11 215.43,397.29 215.77,396.62 216.11,395.05 216.46,395.9 216.8,395.52 217.14,394.66 219.43,394.66 219.77,397.35 220.11,396.81 220.46,395.84 220.8,397.49 221.14,397.86 221.49,398.82 221.83,398.55 222.17,399.48 222.51,399.97 222.86,399.57 223.2,401.09 223.54,401.18 223.89,401.77 224.23,403.71 224.57,403.57 224.95,401.75 225.33,401.05 225.71,399 226.06,399 226.4,400.07 226.74,399.97 227.09,401.32 227.43,401.29 227.77,401.57 228.11,399.9 228.46,398.81 228.8,399.31 229.14,398.43 229.49,397.04 229.83,397.71 230.17,395.84 230.51,396.13 230.86,394.66"/>
<polyline class="b" points="230.86,394.66 234.86,394.66"/>
<polyline class="l" points="234.86,394.66 235.2,394.26 235.54,395.81 235.89,396.45 236.23,395.6 236.57,397.29 236.91,397.57 237.26,395.06 237.6,396.05 237.94,395.27 238.29,394.66"/>
<polyline class="b" points="238.29,394.66 260,394.66 270.43,394.66"/>
<polyline class="l" points="270.43,394.66 270.81,398.44 271.19,398.36 271.57,400.71 271.95,402.1 272.33,403.11 272.71,403.57 273.1,402.29 273.48,400.85 273.86,399 274.24,400.5 274.62,402.35 275,402.43 275.38,402.63 275.76,403.24 276.14,403 276.52,400.69 276.9,401.46 277.29,397.86 277.63,397.36 277.97,396.53 278.31,395.92 278.66,396.61 279,395.57 279.34,395.6 279.69,395.66 280.03,397.11 280.37,395.17 280.71,396.71 281.06,396.63 281.4,394.93 281.74,396.25 282.09,395.96 282.43,395 282.76,395.1 283.08,395.35 283.41,394.68 283.73,394.54 284.06,394.62 284.39,395.21 284.71,394.66"/>
<polyline class="b" points="284.71,394.66 360.14,394.66"/>
<polyline class="l" points="360.14,394.66 360.52,396.25 360.9,397.79 361.29,400.14 361.63,401.31 361.97,400.54 362.31,402.27 362.66,403.17 363,403 363.33,402.3 363.65,403.01 363.98,401.46 364.31,401.68 364.63,402.65 364.96,401.46 365.29,401.86 365.66,401.43 366.03,401.29 366.4,398.28 366.77,397.86 367.11,396.45 367.46,396.2 367.8,396.95 368.14,395.57 368.49,396.33 368.83,396.41 369.17,397.36 369.51,398.64 369.86,399.57 370.24,400.19 370.62,403.23 371,404.14 371.34,401.32 371.69,401.92 372.03,400.1 372.37,399.24 372.71,398.43 373.06,400.88 373.4,402.98 373.74,402.91 374.09,405.29 374.46,403.91 374.83,401.16 375.2,399.48 375.57,397.86 375.91,400.12 376.26,401.61 376.6,403.82 376.94,405.64 377.29,408.14 377.63,407.63 377.97,406.36 378.31,405.58 378.66,403.57 379.03,403.35 379.4,403.17 379.77,403.51 380.14,404.71 380.49,403.57 380.83,401.82 381.17,401.61 381.51,400.52 381.86,399 382.2,399.4 382.54,398.33 382.89,396.94 383.23,396.78 383.57,396.71 383.94,398.63 384.31,400.04 384.69,399.73 385.06,401.86 385.4,401.94 385.74,399.87 386.09,399.55 386.43,397.29 386.81,396.7 387.19,396.83 387.57,395.57 387.91,397.26 388.26,398.2 388.6,402.26 388.94,401.86 389.31,404.55 389.69,402.54 390.06,404.49 390.43,404.71 390.77,403.09 391.11,402.31 391.46,400.85 391.8,399.86 392.14,398.43 392.49,399.54 392.83,401.23 393.17,400.41 393.51,401.29 393.9,399.76 394.28,398.54 394.66,395 395.03,397.19 395.4,397.66 395.77,398.83 396.14,398.43 396.51,398.03 396.89,398.14 397.26,399.28 397.63,399.57 397.97,401.01 398.31,401.14 398.66,403.38 399,404.14 399.34,403.9 399.69,401.03 400.03,400.13 400.37,400.14 400.71,398.97 401.06,399.56 401.4,400.38 401.74,399.22 402.09,399"/>
<rect class="b" x="103.89" y="392.56" width="309.56" height="55.54"/>
<path class="b" d="M115.1,448.1v12.67M167.21,448.1v12.67M219.33,448.1v12.67M271.44,448.1v12.67M323.56,448.1v12.67M375.67,448.1v12.67M103.89,394.56h-12.67M103.89,401.87h-12.67M103.89,409.19h-12.67M103.89,416.5h-12.67M103.89,423.82h-12.67M103.89,431.13h-12.67M103.89,438.45h-12.67M103.89,445.76h-12.67M115.1,448.1H375.67M103.89,394.56V445.76"/>
<text transform="translate(115.1,493.71) rotate(0.1) scale(1,0.955)" text-anchor="middle">0</text>
<text transform="translate(167.21,493.71) rotate(0.1) scale(1,0.955)" text-anchor="middle">200</text>
<text transform="translate(271.44,493.71) rotate(0.1) scale(1,0.955)" text-anchor="middle">600</text>
<text transform="translate(375.67,493.71) rotate(0.1) scale(1,0.955)" text-anchor="middle">1000</text>
<text transform="translate(258.67,544.39) rotate(0.1) scale(1,0.955)" text-anchor="middle">p2x</text>
<text transform="translate(73.09,446.31) rotate(-89.9) scale(1,0.955)" text-anchor="middle">0.3</text>
</g>
<g id="panel4">
<polyline class="l" points="581.63,446.09 582.09,440.71 582.47,437.27 582.85,438.71 583.23,436.14 583.57,436.64 583.91,439 584.37,421.29 584.71,422.2 585.06,424.71 585.63,413.86 586.43,413.86 587,425.86 587.3,423.82 587.61,422.78 587.91,421.29 588.31,427.46 588.71,432.14 589.02,427.93 589.32,426.72 589.63,423.57 590.01,425.46 590.39,424.71 590.77,425.86 591.17,421.79 591.57,420.14 591.95,424.51 592.33,426.32 592.71,431.57 593.11,421.49 593.51,412.71 593.82,416.27 594.12,418.35 594.43,421.29 594.73,417.42 595.04,414.88 595.34,411 595.74,415.65 596.14,420.14 596.54,413.08 596.94,405.29 597.25,406.77 597.55,409.35 597.86,411.57 598.2,411.66 598.54,411.97 598.89,411.97 599.23,410.43 599.61,409.75 599.99,405.43 600.37,401.86 600.74,400.29 601.11,399.66 601.49,400.5 601.86,397.86 602.23,397.54 602.6,395.51 602.97,397.64 603.34,395.91 603.67,397.57 603.99,397.08 604.31,396.11 604.64,395.98 604.96,396.26 605.29,397.86 605.66,398.93 606.03,399.31 606.4,401.07 606.77,401.86 607.11,401.61 607.46,400.81 607.8,399.27 608.14,398.43 608.49,398.84 608.83,400.59 609.17,401.62 609.51,399.72 609.86,401.29 610.2,401.88 610.54,402.53 610.89,403.4 611.23,403.75 611.57,405.29 611.88,403.29 612.18,400.55 612.49,398.43 612.83,397.09 613.17,396.57 613.51,396.31 613.86,396.71 614.2,396.31 614.54,397.75 614.89,396.31 615.23,397.75 615.57,399 615.95,397.14 616.33,396.57 616.71,395.23 617.1,395.63 617.48,394.43 617.86,394.66"/>
<polyline class="b" points="617.86,394.66 628.49,394.66"/>
<polyline class="l" points="628.49,394.66 628.71,404.14 628.94,394.66"/>
<polyline class="b" points="628.94,394.66 727,394.66 869.09,394.66"/>
<rect class="b" x="570.56" y="392.56" width="309.56" height="55.54"/>
<path class="b" d="M581.77,448.1v12.67M633.88,448.1v12.67M685.99,448.1v12.67M738.11,448.1v12.67M790.22,448.1v12.67M842.34,448.1v12.67M570.56,394.56h-12.67M570.56,407.41h-12.67M570.56,420.26h-12.67M570.56,433.11h-12.67M570.56,445.96h-12.67M581.77,448.1H842.34M570.56,394.56V445.96"/>
<text transform="translate(581.77,493.71) rotate(0.1) scale(1,0.955)" text-anchor="middle">0</text>
<text transform="translate(633.88,493.71) rotate(0.1) scale(1,0.955)" text-anchor="middle">200</text>
<text transform="translate(738.11,493.71) rotate(0.1) scale(1,0.955)" text-anchor="middle">600</text>
<text transform="translate(842.34,493.71) rotate(0.1) scale(1,0.955)" text-anchor="middle">1000</text>
<text transform="translate(725.34,544.39) rotate(0.1) scale(1,0.955)" text-anchor="middle">p3</text>
<text transform="translate(539.75,446.51) rotate(-89.9) scale(1,0.955)" text-anchor="middle">0.80</text>
</g>
<g id="panel5">
<polyline class="l" points="1048.43,418.43 1048.83,415 1049.23,415 1049.53,417.85 1049.84,418.74 1050.14,423 1050.52,420.9 1050.9,417.46 1051.29,417.86 1051.67,417.46 1052.05,417.5 1052.43,418.43 1052.81,418.4 1053.19,415.48 1053.57,415.57 1053.91,417.93 1054.26,419.49 1054.6,423.73 1054.94,424.71 1055.25,422.85 1055.55,419.05 1055.86,417.86 1056.2,418.79 1056.54,420.03 1056.89,421.39 1057.23,422.43 1057.53,419.99 1057.84,419.48 1058.14,417.29 1058.49,420.18 1058.83,422.31 1059.17,425.39 1059.51,427.57 1059.9,423.87 1060.28,423.65 1060.66,421.29 1061.04,423.86 1061.42,427.32 1061.8,431 1062.17,429.62 1062.54,431.35 1062.91,429.49 1063.29,429.29 1063.67,430.6 1064.05,433.67 1064.43,436.14 1064.8,439.41 1065.17,438.21 1065.54,439.09 1065.91,441.86 1066.26,442.69 1066.6,444.93 1066.94,444.16 1067.29,445.86 1067.63,445.87 1067.97,445.9 1068.31,444.89 1068.66,446.26 1069,445.29 1069.37,443.24 1069.74,442.38 1070.11,439.41 1070.49,437.29 1070.83,435.52 1071.17,435.82 1071.51,433.21 1071.86,431.57 1072.26,429.38 1072.66,428.14 1072.96,431.31 1073.27,432.26 1073.57,435 1073.95,437.49 1074.33,437.84 1074.71,440.71 1075.09,441.01 1075.46,441.04 1075.83,440.11 1076.2,440.14 1076.6,432.49 1077,424.71 1077.34,424.58 1077.69,424.24 1078.03,424.41 1078.37,422.8 1078.71,423 1079.06,423.98 1079.4,425.11 1079.74,425.25 1080.09,425.86 1080.46,428.23 1080.83,428.66 1081.2,431.63 1081.57,432.71 1081.91,430.14 1082.26,431.83 1082.6,431.84 1082.94,430.6 1083.29,429.86 1083.69,425.59 1084.09,421.29 1084.46,424.87 1084.83,424.36 1085.2,426.87 1085.57,428.14 1085.95,429.46 1086.33,429.65 1086.71,431 1087.1,425.83 1087.48,421.91 1087.86,418.43 1088.2,418.83 1088.54,417.55 1088.89,417.04 1089.23,417.29 1089.6,417.45 1089.97,420.2 1090.34,419.88 1090.71,420.14 1091.09,422.37 1091.46,420.72 1091.83,423.77 1092.2,423.57 1093.57,423.57 1093.88,419.71 1094.18,414.27 1094.49,409.29 1094.83,410.33 1095.17,411.13 1095.51,411.13 1095.86,413.29 1096.24,409.37 1096.62,407.79 1097,407 1097.38,404.1 1097.76,403.59 1098.14,400.71 1099.51,400.71 1099.9,403.22 1100.28,404.1 1100.66,407 1101.03,406.68 1101.4,409.97 1101.77,409.86 1102.14,411.57 1102.52,411.5 1102.9,409.85 1103.29,408.14 1103.66,406.28 1104.03,402.44 1104.4,398.52 1104.77,396.14 1105.11,396.89 1105.46,396.09 1105.8,399.27 1106.14,400.71 1106.49,399.33 1106.83,396.48 1107.17,396.63 1107.51,395.57 1107.89,394.97 1108.26,394.84 1108.63,394.44 1109,394.66"/>
<polyline class="b" points="1109,394.66 1113.57,394.66"/>
<polyline class="l" points="1113.57,394.66 1113.97,397.02 1114.37,400.49 1114.75,399.77 1115.13,398.18 1115.51,397.29 1115.89,397.6 1116.26,397.12 1116.63,397.15 1117,397.86 1117.37,396.1 1117.74,396.8 1118.11,395.77 1118.49,394.66"/>
<polyline class="b" points="1118.49,394.66 1177.57,394.66"/>
<polyline class="l" points="1177.57,394.66 1177.94,395.07 1178.31,395.21 1178.69,396.33 1179.06,397.86 1179.38,398.6 1179.7,397.46 1180.02,398.72 1180.34,400.2 1180.66,399.8 1181.03,399.65 1181.4,397.69 1181.77,398.69 1182.14,397.29 1182.49,398.07 1182.83,397.52 1183.17,397.46 1183.51,397.88 1183.86,397.86 1184.2,398.21 1184.54,397.37 1184.89,395.95 1185.23,396.57 1185.57,396.14 1185.91,395.77 1186.26,395.81 1186.6,395.99 1186.94,395.74 1187.29,396.71 1187.63,396.69 1187.97,395.86 1188.31,395.67 1188.66,395.15 1189,395.23 1189.34,396.54 1189.69,394.83 1190.03,395.16 1190.37,395.62 1190.71,396.14 1191.04,395.11 1191.37,395.25 1191.69,395.87 1192.02,395.08 1192.35,394.6 1192.67,394.77 1193,395 1193.03,396.71 1193.33,397.17 1193.64,397.85 1193.94,396.59 1194.25,397.32 1194.55,398.26 1194.86,397.86 1195.2,397.46 1195.54,400.54 1195.89,399.22 1196.23,398.22 1196.57,400.14 1196.9,401.14 1197.22,399.94 1197.54,401.16 1197.87,400.68 1198.19,400.72 1198.51,401.29 1198.89,401.69 1199.26,399.87 1199.63,398.08 1200,396.71 1200.34,398.04 1200.69,396.42 1201.03,398 1201.37,398.83 1201.71,398.43 1202.1,396.15 1202.48,396.36 1202.86,395.23 1203.2,395.22 1203.54,394.3 1203.89,394.8 1204.23,394.37 1204.57,394.66"/>
<polyline class="b" points="1204.57,394.66 1218.86,394.66"/>
<polyline class="l" points="1218.86,394.66 1219.2,394.26 1219.54,395.43 1219.89,394.86 1220.23,394.82 1220.57,395.23 1220.91,395.31 1221.26,395 1221.6,394.8 1221.94,394.87 1222.29,394.66"/>
<polyline class="b" points="1222.29,394.66 1229.14,394.66"/>
<polyline class="l" points="1229.14,394.66 1229.45,396.82 1229.75,397.5 1230.06,398.43 1230.46,400.96 1230.86,403 1231.24,400.02 1231.62,398.6 1232,397.29 1232.38,395.75 1232.76,395.14 1233.14,395 1233.47,394.98 1233.8,394.89 1234.12,394.66 1234.45,394.75 1234.78,394.86 1235.1,394.56 1235.43,394.66 1235.81,394.83 1236.19,397.42 1236.57,397.29 1236.95,399.41 1237.33,401.1 1237.71,403 1238.1,402.05 1238.48,400.56 1238.86,397.86 1239.24,398.06 1239.62,398.74 1240,400.14 1240.38,402.77 1240.76,403.94 1241.14,405.29 1241.52,403.84 1241.9,402.28 1242.29,399.57 1242.67,402.12 1243.05,402.52 1243.43,405.29 1243.81,405.69 1244.19,404.76 1244.57,404.71 1244.95,403.65 1245.33,400.1 1245.71,398.43 1246.06,398.83 1246.4,397.61 1246.74,397.35 1247.09,396.44 1247.43,396.71 1247.77,396.9 1248.11,396.35 1248.46,397.03 1248.8,396.42 1249.14,396.37 1249.49,395.97 1249.83,397.18 1250.17,396.68 1250.51,397.25 1250.86,397.86 1251.2,398.64 1251.54,398.04 1251.89,399 1252.23,398.23 1252.57,399 1252.94,400.17 1253.31,400.81 1253.69,400.69 1254.06,402.43 1254.4,400.36 1254.74,400.53 1255.09,399.88 1255.43,399.57 1255.77,398.51 1256.11,399.27 1256.46,398.11 1256.8,399.33 1257.14,398.43 1257.51,400.05 1257.89,400.27 1258.26,400.18 1258.63,401.29 1259.01,402.91 1259.39,403.4 1259.77,403.57 1260.11,400.94 1260.46,401.36 1260.8,400.51 1261.14,400.14 1261.49,398.88 1261.83,400.18 1262.17,399.47 1262.51,400.17 1262.86,399 1263.18,398.55 1263.51,398.2 1263.84,398.96 1264.16,398.66 1264.49,398.6 1264.82,398.92 1265.14,398.43 1265.49,398.22 1265.83,398.6 1266.17,397.89 1266.51,397.18 1266.86,397.51 1267.2,398.55 1267.54,398.27 1267.89,398.29 1268.23,398.83 1268.57,398.43 1268.91,396.93 1269.26,398.83 1269.6,397.45 1269.94,397.06 1270.29,397.06 1270.63,398.03 1270.97,397.77 1271.31,398.3 1271.66,397.89 1272,398.43 1272.34,398.74 1272.69,398.96 1273.03,399.97 1273.37,398.64 1273.71,399.57 1274.06,401.14 1274.4,399.47 1274.74,401.1 1275.09,401.19 1275.43,401.63 1275.77,401.38 1276.11,401.36 1276.46,401.4 1276.8,401.7 1277.14,401.29 1277.52,400.14 1277.9,398.44 1278.29,396.14 1278.67,397.47 1279.05,399.42 1279.43,400.71 1279.77,401.11 1280.11,399.31 1280.46,400.62 1280.8,398.6 1281.14,399 1281.52,400.23 1281.9,399.54 1282.29,401.29 1282.63,400.55 1282.97,400.68 1283.31,400.12 1283.66,400.54 1284,399 1284.38,398.98 1284.76,401.01 1285.14,401.86 1285.49,401.83 1285.83,401.17 1286.17,398.12 1286.51,398.43 1286.9,397.26 1287.28,396.26 1287.66,395.23 1288.03,396.02 1288.4,396.33 1288.77,399.33 1289.14,399.57 1289.51,399.2 1289.89,399.35 1290.26,399.91 1290.63,400.14 1291.03,397.74 1291.43,395.57 1291.77,395.97 1292.11,395.72 1292.46,395.24 1292.8,395.12 1293.14,394.66"/>
<polyline class="b" points="1293.14,394.66 1335.43,394.66"/>
<rect class="b" x="1037.23" y="392.56" width="309.56" height="55.54"/>
<path class="b" d="M1048.43,448.1v12.67M1100.55,448.1v12.67M1152.66,448.1v12.67M1204.77,448.1v12.67M1256.89,448.1v12.67M1309,448.1v12.67M1037.23,394.56h-12.67M1037.23,404.86h-12.67M1037.23,415.16h-12.67M1037.23,425.46h-12.67M1037.23,435.76h-12.67M1037.23,446.06h-12.67M1048.43,448.1H1309M1037.23,394.56V446.06"/>
<text transform="translate(1048.43,493.71) rotate(0.1) scale(1,0.955)" text-anchor="middle">0</text>
<text transform="translate(1100.55,493.71) rotate(0.1) scale(1,0.955)" text-anchor="middle">200</text>
<text transform="translate(1204.77,493.71) rotate(0.1) scale(1,0.955)" text-anchor="middle">600</text>
<text transform="translate(1309,493.71) rotate(0.1) scale(1,0.955)" text-anchor="middle">1000</text>
<text transform="translate(1192.01,544.39) rotate(0.1) scale(1,0.955)" text-anchor="middle">p4y</text>
<text transform="translate(1006.42,446.61) rotate(-89.9) scale(1,0.955)" text-anchor="middle">0.0</text>
</g>
<g id="panel6">
<polyline class="l" points="115.09,683.77 115.41,683.72 115.73,684 116.05,684.44 116.37,684 116.69,684 117.01,684.05 117.33,684.16 117.65,684.4 117.97,684.2 118.29,684.23 118.6,683.89 118.92,684.55 119.24,684.69 119.56,684.94 119.87,684.42 120.19,684.63 120.51,685.54 120.83,684.98 121.14,685.14 121.47,684.74 121.8,685.39 122.12,685.35 122.45,686.06 122.78,684.74 123.1,686.21 123.43,686.06 123.76,685.82 124.08,684.35 124.41,684.26 124.73,685.44 125.06,684.25 125.39,684.29 125.71,684.57 126.04,684.72 126.37,684.23 126.69,684.39 127.02,684.15 127.35,684.06 127.67,684.23 128,684.23 128.33,683.83 128.65,685 128.98,684.33 129.31,683.83 129.63,684.5 129.96,685.14 130.29,684.91 130.63,683.81 130.97,683.6 131.31,683.91 131.66,683.83 132,684 132.33,684.25 132.65,684.06 132.98,684.37 133.31,684.87 133.63,683.6 133.96,684.61 134.29,684.57 134.61,684.56 134.94,683.41 135.27,684.33 135.59,683.83 135.92,683.88 136.24,684.34 136.57,683.77 136.88,683.69 137.19,683.84 137.51,683.74 137.82,683.65 138.13,683.68 138.44,683.59 138.75,683.68 139.06,683.56 139.38,683.68 139.69,683.61 140,683.54 140.3,683.58 140.6,683.56 140.9,683.54 141.2,683.56 141.5,683.57 141.8,683.53 142.11,683.59 142.41,683.59 142.71,683.6 143.01,683.6 143.31,683.65 143.61,683.6 143.91,683.61 144.21,683.63 144.51,683.65 144.81,683.64 145.11,683.62 145.41,683.71 145.71,683.66 146.02,683.64 146.32,683.66 146.62,683.73 146.92,683.72 147.22,683.7 147.52,683.7 147.82,683.66 148.12,683.74 148.42,683.75 148.72,683.7 149.02,683.71 149.32,683.77 149.62,683.78 149.92,683.79 150.23,683.76 150.53,683.78 150.83,683.81 151.13,683.77 151.43,683.77 151.73,683.74 152.03,683.75 152.33,683.77 152.63,683.71 152.93,683.7 153.23,683.66 153.53,683.75 153.83,683.75 154.14,683.66 154.44,683.75 154.74,683.77 155.04,683.68 155.34,683.7 155.64,683.69 155.94,683.65 156.24,683.67 156.54,683.6 156.84,683.65 157.14,683.66 157.45,683.68 157.75,683.68 158.06,683.8 158.36,683.82 158.67,683.74 158.97,683.89 159.28,683.61 159.58,683.75 159.89,683.78 160.19,684 160.5,683.94 160.8,683.95 161.1,684 161.41,683.93 161.71,684 162.02,683.9 162.33,683.92 162.64,684.24 162.95,683.6 163.25,684.48 163.56,683.99 163.87,684.36 164.18,684.59 164.48,684.45 164.79,684.18 165.1,684.88 165.41,684.4 165.71,684.8 166.03,684.73 166.35,684.71 166.67,684.73 166.98,684.63 167.3,684.48 167.62,684.87 167.94,684.67 168.25,684.48 168.57,684.57 168.9,684.97 169.22,684.5 169.55,684.17 169.88,685.15 170.2,685.3 170.53,684.62 170.86,685.14 171.2,684.78 171.54,685.11 171.89,683.66 172.23,684.43 172.57,683.77 172.88,683.82 173.19,683.72 173.49,683.78 173.8,683.72 174.11,683.69 174.42,683.76 174.73,683.5 175.03,683.42 175.34,683.68 175.65,683.57 175.96,683.54 176.26,683.59 176.57,683.54 176.88,683.6 177.19,683.55 177.51,683.45 177.82,683.7 178.13,683.65 178.44,683.79 178.75,683.59 179.06,683.78 179.38,683.92 179.69,683.82 180,683.77 180.33,683.89 180.65,684.33 180.98,684.28 181.31,684.48 181.63,684.97 181.96,683.8 182.29,684.57 182.61,685.06 182.94,684.68 183.27,684.17 183.59,685.37 183.92,684.94 184.24,685.54 184.57,685.14 184.95,685.39 185.33,685.94 185.71,686.86 186.06,686.5 186.4,685.94 186.74,686.73 187.09,684.74 187.43,685.14 187.81,686.28 188.19,689.95 188.57,689.71 188.95,689.41 189.33,692.4 189.71,692 190.1,692.86 190.48,694.53 190.86,694.29 191.23,694.66 191.6,694.32 191.97,693.68 192.34,693.71 192.74,694.93 193.14,697.71 193.54,700.51 193.94,702.86 194.32,702.18 194.7,698.87 195.09,697.14 195.43,701.78 195.77,705.71 196.17,707.22 196.57,710.29 196.95,707.55 197.33,706.97 197.71,704.57 198.1,707.1 198.48,708.36 198.86,710.29 199.23,710.69 199.6,709.58 199.97,709.78 200.34,708.57 200.74,709.8 201.14,713.71 201.52,716.11 201.9,716.09 202.29,718.29 202.59,717.89 202.9,720.73 203.2,722.86 203.43,727.43 203.81,725.57 204.19,722.87 204.57,721.71 204.91,722.85 205.26,723.25 205.6,722.54 205.94,722.07 206.29,723.43 206.63,722.66 206.97,723.55 207.31,723.56 207.66,723.83 208,722.29 208.4,724.68 208.8,726.86 209.17,724.82 209.54,724.24 209.91,721.89 210.29,722.29 210.63,722.54 210.97,723.92 211.31,725.35 211.66,723.71 212,725.71 212.38,723.14 212.76,722.89 213.14,721.14 213.49,720.74 213.83,723.09 214.17,723.71 214.51,724.32 214.86,726.29 215.2,725.66 215.54,724.87 215.89,724.74 216.23,725.03 216.57,725.14 216.91,724.07 217.26,722.86 217.6,722.56 217.94,722.44 218.29,720.57 218.69,720.28 219.09,720 219.39,721.77 219.7,723 220,724.87 220.3,725.39 220.61,726.81 220.91,728 221.31,724.44 221.71,720.57 222.06,720.98 222.4,721.14 222.74,721.84 223.09,721.97 223.43,723.43 223.77,722.67 224.11,722.97 224.46,722.66 224.8,723.5 225.14,722.86 225.49,724.3 225.83,724.03 226.17,723.34 226.51,722.46 226.86,724.57 227.2,724.97 227.54,723.63 227.89,723.42 228.23,722.44 228.57,722.32 228.91,721.71 229.26,722.71 229.6,724.84 229.94,729.05 230.29,729.14 230.63,729.54 230.97,727.83 231.31,727.45 231.66,727.36 232,728.34 232.34,727.43 234.63,727.43 234.95,727.53 235.28,728.81 235.6,728.84 235.92,728.07 236.25,729.2 236.57,729.71 236.91,730.05 237.26,731.57 237.6,731.09 237.94,731.59 238.29,732.57 238.6,732.21 238.91,732.55 239.22,732.97 239.53,732.65 239.84,732.89 240.16,733.09 240.47,732.6 240.78,733.14 241.09,733.38 241.4,733.42 241.71,733.14 242.03,733.41 242.35,733.02 242.67,732.44 242.99,732.59 243.31,732.58 243.63,733.1 243.95,732.42 244.27,732.83 244.59,732.36 244.91,732.57 245.3,731.26 245.68,728.76 246.06,726.29 246.4,726.01 246.74,725.89 247.09,729.64 247.43,729.71 247.73,731.02 248.04,734.03 248.34,733.71 248.67,733.42 248.99,733.73 249.31,732.08 249.64,730.46 249.96,730.46 250.29,730.86 250.61,730.39 250.94,730.08 251.27,729.6 251.59,728.94 251.92,729.3 252.24,727.6 252.57,728 252.9,728.4 253.22,727.29 253.55,726.73 253.88,727.38 254.2,726.7 254.53,726.56 254.86,726.29 255.24,726.35 255.62,725.89 256,728 256.37,725.66 256.74,724.47 257.11,721.18 257.49,720 257.83,720.35 258.17,720.31 258.51,721.75 258.86,721.71 259.24,722.11 259.62,721.14 260,721.14 260.32,722.59 260.64,723.81 260.96,725.95 261.29,728 261.63,728.55 261.97,727.6 262.31,729.89 262.66,728.42 263,729.49 263.32,728.97 263.63,729.14 263.95,728.93 264.27,729.1 264.59,729.72 264.9,729.17 265.22,728.4 265.54,729.77 265.86,728.8 266.24,724.53 266.62,723.2 267,720 267.38,718.93 267.76,718.64 268.14,717.14 268.52,718.79 268.9,720.55 269.29,722.86 269.63,722.57 269.97,720.78 270.31,721.85 270.66,720.74 271,721.14 271.38,717.93 271.76,715.3 272.14,712 272.45,712.84 272.75,711.72 273.06,712.57 273.46,719.68 273.86,724.57 274.2,722.91 274.54,724.02 274.89,723.95 275.23,721.31 275.57,721.71 275.91,720.73 276.26,720.51 276.6,720.14 276.94,718.29 277.31,719.12 277.69,718.27 278.06,718.73 278.43,718.86 279,708.57 279.34,711.54 279.69,712.67 280.03,714.84 280.37,717.71 280.74,715.6 281.11,711.41 281.49,710.13 281.86,709.14 282.24,709.15 282.62,709.06 283,710.29 283.38,712.42 283.76,713.18 284.14,716 284.51,715.81 284.89,714.44 285.26,712.57 285.63,711.43 286.01,709.64 286.39,707.96 286.77,707.43 287.11,710.05 287.46,713.1 287.8,715.57 288.14,718.29 288.52,717.07 288.9,716.85 289.29,714.29 289.63,713.04 289.97,712.54 290.31,709.89 290.66,710.29 291.03,711.74 291.4,712.14 291.77,714.85 292.14,716.57 292.49,716.41 292.83,716.45 293.17,716.28 293.51,715.86 293.86,716 294.2,715.5 294.54,712.84 294.89,712.66 295.23,711.43 295.6,712.55 295.97,712.84 296.34,713.64 296.71,714.29 297.1,709.96 297.48,707.99 297.86,704.57 299.57,704.57 299.95,706.65 300.33,710.52 300.71,713.14 301.1,711.64 301.48,710.28 301.86,708 302.24,709.86 302.62,710.41 303,713.14 303.34,711.59 303.69,709.94 304.03,708.62 304.37,707.43 304.74,710.14 305.11,711.36 305.49,712.51 305.86,714.86 306.23,713.8 306.6,711.01 306.97,707.03 307.34,705.14 307.72,707.94 308.1,711.18 308.49,713.71 308.87,714.63 309.25,719.07 309.63,720 309.97,721.91 310.31,723.13 310.66,724.51 311,725.14 311.34,724.69 311.69,724.33 312.03,725.41 312.37,724.61 312.71,724 313.06,723.82 313.4,722.39 313.74,721.78 314.09,719.67 314.43,720 314.77,719.36 315.11,719.61 315.46,720.12 315.8,719.07 316.14,719.43 316.49,719.3 316.83,720.97 317.17,720.33 317.51,720.97 317.86,720.57 318.24,722.25 318.62,723.12 319,726.86 319.34,727.77 319.69,727.47 320.03,727.85 320.37,726.93 320.71,728 321.06,728.7 321.4,730.06 321.74,731.25 322.09,731.8 322.43,732.57 322.77,732.17 323.11,734.53 323.46,733.31 323.8,734.55 324.14,734.86 324.49,734.77 324.83,734.69 325.17,733.71 325.51,733.27 325.86,733.14 326.18,733.3 326.51,731.99 326.84,733.19 327.16,732.37 327.49,733.25 327.82,731.6 328.14,732 328.47,731.55 328.8,732.12 329.12,731.74 329.45,730.46 329.78,730.46 330.1,730.72 330.43,730.86 330.76,730.46 331.08,730.98 331.41,731.32 331.73,731.34 332.06,732.28 332.39,732.97 332.71,732.57 333.06,731.31 333.4,728.97 333.74,727.81 334.09,726.29 334.43,725.66 334.77,725.91 335.11,726.31 335.46,725.79 335.8,725.31 336.14,725.71 336.52,725.42 336.9,724.2 337.29,722.29 337.67,720.21 338.05,718.97 338.43,718.86 338.77,720.8 339.11,719.77 339.46,721.25 339.8,719.85 340.14,721.14 340.54,723.42 340.94,724 341.29,723.17 341.63,721.95 341.97,721.87 342.31,722.86 342.66,721.5 343,719.43 343.33,720.03 343.65,719.03 343.98,719.59 344.31,720.51 344.63,721.15 344.96,721.19 345.29,721.14 345.63,721.94 345.97,721.56 346.31,723.36 346.66,722.88 347,723.43 349.29,723.43 349.61,724.54 349.94,725.92 350.27,724.97 350.59,726.03 350.92,726.66 351.24,729.06 351.57,729.14 351.9,728.98 352.22,727.89 352.55,727.16 352.88,726.25 353.2,724.65 353.53,724.41 353.86,723.43 354.2,724.7 354.54,725.46 354.89,724.79 355.23,725.22 355.57,726.29 355.91,725.72 356.26,726.6 356.6,724.74 356.94,725.31 357.29,725.14 357.63,725.54 357.97,724.26 358.31,723.5 358.66,723.49 359,722.29 359.34,721.67 359.69,722.14 360.03,722.15 360.37,721.66 360.71,721.14 361.06,720.21 361.4,721.01 361.74,720.33 362.09,719.48 362.43,717.71 362.77,717.31 363.11,719.09 363.46,718.08 363.8,719.04 364.14,718.86 364.49,718.5 364.83,715.72 365.17,714.75 365.51,713.71 365.89,715.02 366.26,718.64 366.63,718.81 367,721.14 367.34,719.38 367.69,718.73 368.03,718.83 368.37,716.13 368.71,716 369.29,710.29 369.63,711.65 369.97,712.64 370.31,710.78 370.66,712.82 371,712.57 371.38,713.95 371.76,714.11 372.14,713.71 372.49,712.47 372.83,710.98 373.17,707.92 373.51,705.34 373.86,704.57 374.24,704.91 374.62,707.77 375,709.14 375.38,708.96 375.76,705.96 376.14,705.14 376.49,704.85 376.83,702.6 377.17,704.07 377.51,701.14 377.89,701.08 378.26,703.19 378.63,704.97 379,704.57 379.38,706.25 379.76,707.47 380.14,710.29 380.52,709.11 380.9,707 381.29,706.29 381.66,707.15 382.03,709.15 382.4,712.03 382.77,713.71 383.11,714.66 383.46,717.04 383.8,719.67 384.14,721.71 384.52,718.22 384.9,716.21 385.29,713.71 385.63,712.29 385.97,709.96 386.31,708.92 386.66,706.86 387.03,708.2 387.4,709.55 387.77,711.52 388.14,713.14 388.54,714.2 388.94,716 389.31,714.26 389.69,711.51 390.06,711.9 390.43,709.71 390.77,711.35 391.11,714.35 391.46,715.6 391.8,716.73 392.14,718.86 392.49,719.26 392.83,718.83 393.17,717.55 393.51,716.34 393.86,716.57 394.24,713.38 394.62,711.02 395,709.71 395.38,708.52 395.76,706.77 396.14,706.29 396.52,709.62 396.9,711.9 397.29,714.29 397.67,712.45 398.05,710.16 398.43,707.43 398.81,709.75 399.19,711.03 399.57,713.71 399.91,711.21 400.26,708.93 400.6,705.52 400.94,703.43 401.32,708.12 401.7,709.38 402.09,712"/>
<rect class="b" x="103.89" y="681.23" width="309.56" height="55.54"/>
<path class="b" d="M115.1,736.77v12.67M167.21,736.77v12.67M219.33,736.77v12.67M271.44,736.77v12.67M323.56,736.77v12.67M375.67,736.77v12.67M103.89,683.13h-12.67M103.89,694.33h-12.67M103.89,705.53h-12.67M103.89,716.73h-12.67M103.89,727.93h-12.67M115.1,736.77H375.67M103.89,683.13V727.93"/>
<text transform="translate(115.1,782.38) rotate(0.1) scale(1,0.955)" text-anchor="middle">0</text>
<text transform="translate(167.21,782.38) rotate(0.1) scale(1,0.955)" text-anchor="middle">200</text>
<text transform="translate(271.44,782.38) rotate(0.1) scale(1,0.955)" text-anchor="middle">600</text>
<text transform="translate(375.67,782.38) rotate(0.1) scale(1,0.955)" text-anchor="middle">1000</text>
<text transform="translate(258.67,833.06) rotate(0.1) scale(1,0.955)" text-anchor="middle">p5x</text>
<text transform="translate(73.09,728.18) rotate(-89.9) scale(1,0.955)" text-anchor="middle">0.2</text>
</g>
<g id="panel7">
<polyline class="b" points="581.86,734.63 616.14,734.63"/>
<polyline class="l" points="616.14,734.63 616.49,735.03 616.83,733.31 617.17,733.31 617.51,733.31 617.86,733.71 618.24,732.3 618.62,729.59 619,729.71 619.38,728.54 619.76,728.83 620.14,725.14 620.52,723.89 620.9,723.24 621.29,723.43 621.63,722.38 621.97,722.79 622.31,722.31 622.66,721.71 623.23,730.86 623.53,730.17 623.84,729.24 624.14,729.14 624.49,729.45 624.83,730.11 625.17,728.92 625.51,729.71 625.82,732.53 626.12,733.99 626.43,734.29 626.73,730.87 627.04,728.46 627.34,727.43 627.91,704 628.31,708.22 628.71,710.29 629.02,705.5 629.32,701.37 629.63,697.14 630.03,701.41 630.43,704.57 630.83,702.74 631.23,698.86 631.57,704.17 631.91,709.14 632.31,715.8 632.71,718.86 633.11,715.17 633.51,709.14 633.82,712.45 634.12,713.4 634.43,714.86 634.73,712.39 635.04,709.31 635.34,705.71 635.74,709.76 636.14,713.71 636.71,697.71 637.11,706.51 637.51,716.57 637.82,713.19 638.12,708.7 638.43,704.57 638.83,711.99 639.23,717.14 639.57,708.8 639.91,702.86 640.31,711.07 640.71,718.86 641.11,714.49 641.51,709.14 641.82,710.69 642.12,714 642.43,716.57 642.73,711.23 643.04,707.5 643.34,704.57 643.74,709.05 644.14,713.14 644.54,717.68 644.94,724 645.25,719.28 645.55,714.3 645.86,709.14 646.16,711.01 646.47,713.04 646.77,714.86 647.17,708.89 647.57,705.14 647.97,709.28 648.37,713.71 648.68,710.66 648.98,708.73 649.29,704.57 649.59,707.76 649.9,712.18 650.2,715.43 650.6,711.89 651,707.43 651.4,711.24 651.8,716 652.1,719.77 652.41,722.1 652.71,724 653.02,724.85 653.32,725.67 653.63,726.86 654.01,725.62 654.39,724.42 654.77,721.71 655.17,718.29 655.57,714.86 655.97,709.62 656.37,702.86 656.71,708.67 657.06,713.71 657.46,699.86 657.86,685.71 658.26,689.5 658.66,694.86 659,692.49 659.34,689.71 659.74,686.03 660.14,683.43 660.54,689.55 660.94,695.43 661.29,699.25 661.63,704 662.03,696.97 662.43,690.86 662.83,693.29 663.23,697.71 663.53,692.58 663.84,689.8 664.14,685.71 664.54,688.44 664.94,691.43 665.29,687.67 665.63,685.14 666.03,690.69 666.43,696.57 666.83,701.98 667.23,708.57 667.53,707.06 667.84,704.65 668.14,703.43 668.71,712.57 669.29,704.57 669.59,710.36 669.9,714.32 670.2,719.43 670.77,732 671.15,729.71 671.53,729.47 671.91,726.29 672.3,727.8 672.68,729.03 673.06,730.29 673.46,728.4 673.86,725.14 674.43,734.86 674.81,731.21 675.19,727.17 675.57,725.14 675.88,727.51 676.18,731.96 676.49,734.86 676.89,731.32 677.29,726.29 677.86,733.14 678.16,728.46 678.47,722.65 678.77,718.29 679.17,712.84 679.57,709.71 679.97,712.24 680.37,713.71 680.68,717.49 680.98,719.28 681.29,721.71 681.67,721.39 682.05,719.6 682.43,720 682.77,721.56 683.11,722.71 683.46,724.23 683.8,725.71 684.17,723.62 684.54,722.49 684.91,720.25 685.29,720.57 685.67,721.89 686.05,723.53 686.43,724.57 686.81,723.94 687.19,720.21 687.57,720 687.91,720.07 688.26,718.13 688.6,716.99 688.94,715.43 689.25,718.03 689.55,721.55 689.86,724 690.26,727.83 690.66,729.71 690.96,731.26 691.27,733.58 691.57,734.63"/>
<polyline class="b" points="691.57,734.63 696.14,734.63"/>
<polyline class="l" points="696.14,734.63 696.52,733.42 696.9,732.53 697.29,730.86 697.63,732.17 697.97,733.21 698.31,734.88 698.66,734.63 699.03,734.78 699.4,734.02 699.77,735.03 700.14,733.14 700.49,733.72 700.83,733.19 701.17,733.7 701.51,734.11 701.86,733.71 702.2,733.52 702.54,733.01 702.89,730.47 703.23,731.57 703.57,730.29 703.95,730.49 704.33,731.64 704.71,732 705.09,732.36 705.46,731.81 705.83,731.48 706.2,730.86 706.58,728.73 706.96,727.14 707.34,725.14 707.74,726.73 708.14,732 708.51,732.58 708.89,732.1 709.26,732.95 709.63,732.57 710.03,733.43 710.43,734.63"/>
<polyline class="b" points="710.43,734.63 727,734.63 805.2,734.63"/>
<polyline class="l" points="805.2,734.63 805.6,731.64 806,725.14 806.57,716 806.88,715.6 807.18,717.28 807.49,718.29 807.89,715.33 808.29,710.29 808.66,710.69 809.03,709.72 809.4,707.6 809.77,708 810.17,710.37 810.57,714.86 811.14,724.57 811.45,724.17 811.75,726.53 812.06,726.86 812.46,722.1 812.86,714.86 813.26,719.02 813.66,724 813.96,720.35 814.27,717.49 814.57,713.14 814.88,717.08 815.18,720.4 815.49,724.57 815.87,722.39 816.25,722.35 816.63,721.14 816.97,721.18 817.31,721.05 817.66,720.17 818,720.57 818.34,722.77 818.69,723.21 819.03,724.34 819.37,726.86 819.74,724.77 820.11,725.12 820.49,723.1 820.86,721.71 821.24,722.85 821.62,723.82 822,723.43 822.57,714.86 822.91,715.15 823.26,714.63 823.6,713.89 823.94,714.29 824.32,712.1 824.7,711.42 825.09,710.86 825.47,712.68 825.85,713.66 826.23,716 826.61,715.24 826.99,713.82 827.37,713.14 827.75,713.53 828.13,715.63 828.51,717.71 828.9,718.12 829.28,718.4 829.66,720 830.04,722.04 830.42,723.5 830.8,724 831.14,717.41 831.49,713.71 831.87,714.65 832.25,718.05 832.63,720 833.03,716.61 833.43,712.57 833.81,709.93 834.19,708.07 834.57,706.29 835.14,704.57 835.71,692.57 836.1,692.17 836.48,694.32 836.86,694.29 837.26,700.58 837.66,705.71 837.96,709.25 838.27,710.28 838.57,712 838.95,708.27 839.33,706.38 839.71,702.29 840.02,701.89 840.32,703.68 840.63,703.43 841.03,708.36 841.43,716 841.83,716.18 842.23,714.86 842.53,718.78 842.84,722.01 843.14,725.14 843.45,720.45 843.75,716.21 844.06,711.43 844.44,713.38 844.82,715.51 845.2,716 845.58,715.21 845.96,713.52 846.34,711.43 846.74,706.5 847.14,700 848.06,700 848.63,711.43 849.03,707.52 849.43,706.29 849.83,713.78 850.23,719.43 850.53,722.6 850.84,726.2 851.14,729.14 851.45,724.88 851.75,719.71 852.06,714.86 852.46,712.3 852.86,710.29 853.26,717.46 853.66,724 854,720.65 854.34,716 854.74,721.88 855.14,729.71 855.52,731.37 855.9,732.71 856.29,734.63 858.23,734.63 858.53,733.81 858.84,729.68 859.14,727.43 859.45,724.51 859.75,722.57 860.06,718.86 860.44,720.25 860.82,721.07 861.2,722.86 861.58,719.69 861.96,713.41 862.34,709.14 862.69,708.74 863.03,710.44 863.37,710.35 863.71,710.29 864.02,715.13 864.32,720.03 864.63,724 865.01,726.61 865.39,731.84 865.77,734.29 866.15,732.64 866.53,733.09 866.91,731.43 867.3,730.48 867.68,731.3 868.06,730.29 868.4,731.48 868.74,732.4 869.09,732"/>
<rect class="b" x="570.56" y="681.23" width="309.56" height="55.54"/>
<path class="b" d="M581.77,736.77v12.67M633.88,736.77v12.67M685.99,736.77v12.67M738.11,736.77v12.67M790.22,736.77v12.67M842.34,736.77v12.67M570.56,684.13h-12.67M570.56,694.27h-12.67M570.56,704.41h-12.67M570.56,714.55h-12.67M570.56,724.69h-12.67M570.56,734.83h-12.67M581.77,736.77H842.34M570.56,684.13V734.83"/>
<text transform="translate(581.77,782.38) rotate(0.1) scale(1,0.955)" text-anchor="middle">0</text>
<text transform="translate(633.88,782.38) rotate(0.1) scale(1,0.955)" text-anchor="middle">200</text>
<text transform="translate(738.11,782.38) rotate(0.1) scale(1,0.955)" text-anchor="middle">600</text>
<text transform="translate(842.34,782.38) rotate(0.1) scale(1,0.955)" text-anchor="middle">1000</text>
<text transform="translate(725.34,833.06) rotate(0.1) scale(1,0.955)" text-anchor="middle">p5y</text>
<text transform="translate(539.75,734.28) rotate(-89.9) scale(1,0.955)" text-anchor="middle">0.0</text>
</g>
<g id="panel8">
<polyline class="l" points="1048.43,708 1048.83,704.28 1049.23,704.57 1049.53,707.37 1049.84,709.99 1050.14,713.71 1050.45,714.11 1050.75,713.56 1051.06,713.14 1051.46,709.6 1051.86,706.29 1052.24,703.4 1052.62,700.82 1053,700 1053.38,702.46 1053.76,702.66 1054.14,705.14 1054.52,703.42 1054.9,701.05 1055.29,698.29 1055.67,698.36 1056.05,695.72 1056.43,694.29 1056.81,691.73 1057.19,690.22 1057.57,687.43 1059.06,687.43 1059.46,691.28 1059.86,694.86 1060.16,696.95 1060.47,698.9 1060.77,700.57 1061.17,696.29 1061.57,691.43 1061.95,691.33 1062.33,691.78 1062.71,690.86 1063.02,692.87 1063.32,693.95 1063.63,696 1064.01,698.38 1064.39,701.17 1064.77,702.86 1065.17,697.9 1065.57,692.57 1065.88,692.16 1066.18,687.95 1066.49,686.86 1066.89,690.33 1067.29,693.14 1067.63,692.74 1067.97,695.26 1068.31,693.61 1068.66,694.86 1068.96,692.71 1069.27,688.8 1069.57,687.43 1069.95,686.01 1070.33,684.58 1070.71,684.57 1071.1,683.6 1071.48,683.6 1071.86,684 1072.16,685.9 1072.47,687.95 1072.77,690.86 1073.11,692.21 1073.46,692.02 1073.8,693.02 1074.14,693.14 1074.45,691.35 1074.75,688.15 1075.06,685.14 1075.4,684.23 1075.74,685.54 1076.09,683.37 1076.43,683.77 1076.76,683.87 1077.08,683.37 1077.41,683.8 1077.73,684.43 1078.06,683.77 1078.39,684.61 1078.71,684.23 1079.06,684.63 1079.4,683.83 1079.74,684.02 1080.09,683.94 1080.43,683.31 1080.81,684.15 1081.19,683.65 1081.57,685.37 1081.95,685.16 1082.33,684.06 1082.71,683.31 1083.06,685.73 1083.4,683.53 1083.74,685.29 1084.09,686.84 1084.43,686.86 1084.77,689.03 1085.11,688.53 1085.46,690.62 1085.8,690.86 1086.17,692.68 1086.54,692.44 1086.91,692.65 1087.29,693.71 1087.67,691.04 1088.05,690.77 1088.43,688.57 1088.77,688.5 1089.11,687.62 1089.46,687.99 1089.8,684.88 1090.14,685.14 1090.49,687.31 1090.83,685.92 1091.17,685.22 1091.51,686.43 1091.86,687.43 1092.23,687.4 1092.6,687.33 1092.97,687.03 1093.34,688.57 1093.69,687.14 1094.03,688.23 1094.37,686.5 1094.71,685.71 1095.02,688.87 1095.32,689.16 1095.63,690.86 1096.2,696.57 1096.54,696.97 1096.89,695.75 1097.23,694.11 1097.57,694.29 1097.95,696.35 1098.33,696.28 1098.71,697.14 1099.09,698.71 1099.46,700.16 1099.83,700.75 1100.2,701.71 1100.58,699.99 1100.96,696.83 1101.34,694.86 1101.69,694.46 1102.03,695.85 1102.37,696.34 1102.71,696.57 1103.1,696.26 1103.48,693.79 1103.86,693.14 1104.2,694.2 1104.54,694.96 1104.89,698.29 1105.23,699.43 1105.53,700.07 1105.84,702.02 1106.14,701.71 1106.52,700.89 1106.9,699.34 1107.29,697.14 1107.67,693.66 1108.05,694.2 1108.43,692 1108.81,689.74 1109.19,689.5 1109.57,689.14 1109.95,690.23 1110.33,693.16 1110.71,693.71 1111.1,691.47 1111.48,690.58 1111.86,689.14 1112.24,687.81 1112.62,686.18 1113,684 1113.34,683.71 1113.69,683.46 1114.03,684.4 1114.37,682.91 1114.71,683.31 1115.04,682.98 1115.37,683.33 1115.69,684.58 1116.02,684.73 1116.35,684.79 1116.67,683.39 1117,685.71 1117.33,686.11 1117.65,686.02 1117.98,685.73 1118.31,684.39 1118.63,684.86 1118.96,685.18 1119.29,684.57 1119.61,684.49 1119.94,684.97 1120.27,684.53 1120.59,683.55 1120.92,684.57 1121.24,683.56 1121.57,683.31"/>
<polyline class="b" points="1121.57,683.31 1137,683.31"/>
<polyline class="l" points="1137,683.31 1137.38,683.61 1137.76,684.85 1138.14,685.71 1138.52,687.7 1138.9,689.46 1139.29,689.71 1139.63,691.06 1139.97,691.12 1140.31,691.26 1140.66,690.94 1141,690.86 1141.37,692.12 1141.74,693.03 1142.11,692.39 1142.49,693.14 1142.89,696.54 1143.29,699.43 1143.67,697.67 1144.05,695.73 1144.43,694.29 1144.8,692.7 1145.17,693.45 1145.54,693.97 1145.91,692.57 1146.3,691.12 1146.68,689.77 1147.06,689.14 1147.44,690.79 1147.82,692.1 1148.2,693.71 1148.54,692.87 1148.89,692.32 1149.23,690.42 1149.57,689.71 1149.95,692.56 1150.33,693.42 1150.71,696 1151.1,697.36 1151.48,699.03 1151.86,700 1152.2,699.69 1152.54,699.44 1152.89,698.16 1153.23,697.14 1153.61,698.49 1153.99,699.77 1154.37,702.29 1154.75,704.5 1155.13,704.51 1155.51,706.86 1155.82,707.77 1156.12,709.68 1156.43,710.86 1156.81,710.36 1157.19,709.31 1157.57,709.71 1157.88,712.27 1158.18,713.28 1158.49,714.86 1158.87,716.59 1159.25,718.84 1159.63,720 1160.03,718.24 1160.43,715.43 1160.8,715.83 1161.17,715.34 1161.54,714.63 1161.91,714.29 1162.3,716.79 1162.68,717.99 1163.06,719.43 1163.4,719.03 1163.74,720.34 1164.09,720.06 1164.43,721.14 1164.73,719.02 1165.04,715.7 1165.34,715.43 1165.72,714.16 1166.1,713.31 1166.49,712.57 1166.87,714.33 1167.25,716.53 1167.63,718.86 1167.97,720.7 1168.31,720.92 1168.66,720.84 1169,722.86 1169.34,723.26 1169.69,722.43 1170.03,721.6 1170.37,720.43 1170.71,720 1171.04,720.3 1171.36,721.12 1171.69,721.67 1172.01,722.72 1172.33,723.03 1172.66,722.86 1173.03,720.63 1173.4,719.83 1173.77,717.84 1174.14,716 1174.51,716.76 1174.89,718.52 1175.26,719.63 1175.63,720 1175.97,720.4 1176.31,717.99 1176.66,717.53 1177,717.71 1177.34,717.31 1177.69,717.38 1178.03,720.38 1178.37,719.63 1178.71,720 1179.29,716 1179.67,712.84 1180.05,711.52 1180.43,709.14 1180.81,710.68 1181.19,712.36 1181.57,713.14 1181.95,715.14 1182.33,715.48 1182.71,717.71 1183.1,719.45 1183.48,719.21 1183.86,721.71 1184.16,721.15 1184.47,721.05 1184.77,718.86 1185.11,719.08 1185.46,721.19 1185.8,723.1 1186.14,724.57 1186.49,724.49 1186.83,724.54 1187.17,724.44 1187.51,723.15 1187.86,723.43 1188.2,724.89 1188.54,723.12 1188.89,725.07 1189.23,725.77 1189.57,725.71 1189.91,726.85 1190.26,726.22 1190.6,725.39 1190.94,727.22 1191.29,727.43 1191.63,728.88 1191.97,727.03 1192.31,728.97 1192.66,727.03 1193,728.57 1193.32,724.78 1193.64,722.26 1193.96,720.36 1194.29,716.57 1194.66,716.41 1195.03,720.09 1195.4,720.66 1195.77,722.86 1196.11,722.65 1196.46,723.23 1196.8,721.31 1197.14,721.71 1197.49,723.3 1197.83,722.49 1198.17,723.36 1198.51,724.12 1198.86,726.29 1199.24,724.52 1199.62,720.91 1200,718.86 1200.34,718.54 1200.69,719.3 1201.03,719.29 1201.37,719.17 1201.71,720 1202.04,717.8 1202.36,717.5 1202.69,715.74 1203.01,714.4 1203.33,715.92 1203.66,713.14 1204.04,713.45 1204.42,716.7 1204.8,718.29 1205.11,716.5 1205.43,718.35 1205.74,715.65 1206.06,715.43 1206.44,718.44 1206.82,721.62 1207.2,722.86 1207.52,723.89 1207.84,723.7 1208.16,725.15 1208.48,725.93 1208.8,728 1209.1,727.43 1209.41,726.7 1209.71,725.45 1210.02,724.74 1210.32,724.42 1210.63,722.86 1210.97,722.98 1211.31,724.69 1211.66,724.26 1212,726.29 1212.34,724.56 1212.69,723.03 1213.03,722.78 1213.37,721.71 1213.75,722.48 1214.13,725.15 1214.51,726.86 1214.9,724.88 1215.28,722.21 1215.66,720 1216.04,723.45 1216.42,725.26 1216.8,728 1217.17,729.1 1217.54,727.6 1217.91,728.9 1218.29,730.29 1218.63,729.81 1218.97,730.28 1219.31,730.69 1219.66,730.39 1220,729.71 1220.34,730.93 1220.69,729.47 1221.03,730.98 1221.37,731.02 1221.71,732 1222.04,732.89 1222.37,732.84 1222.69,734.02 1223.02,733.28 1223.35,733.23 1223.67,733.6 1224,734.06 1224.31,734.21 1224.62,733.89 1224.94,733.98 1225.25,734.45 1225.56,734.11 1225.87,734.19 1226.18,734.6 1226.49,734.55 1226.81,734.24 1227.12,734.18 1227.43,734.51"/>
<polyline class="b" points="1227.43,734.51 1231.43,734.51"/>
<polyline class="l" points="1231.43,734.51 1231.73,734.52 1232.04,734.51 1232.34,734.51 1232.65,734.4 1232.95,734.32 1233.26,734.46 1233.56,734.33 1233.87,734.37 1234.17,734.43 1234.48,734.27 1234.78,734.32 1235.09,734.31 1235.39,734.24 1235.7,734.22 1236,734.29 1236.31,734.19 1236.62,734.44 1236.92,734.26 1237.23,734.24 1237.54,734.04 1237.85,734.04 1238.15,733.71 1238.46,734.17 1238.77,734.06 1239.08,734.16 1239.38,734.23 1239.69,734.12 1240,733.94 1240.32,733.65 1240.63,732.95 1240.95,734.16 1241.27,733.34 1241.59,733.51 1241.9,732.63 1242.22,733.05 1242.54,732.89 1242.86,732.91 1243.2,732.97 1243.54,732.6 1243.89,732.14 1244.23,732.27 1244.57,732 1244.91,732.03 1245.26,732.37 1245.6,732.46 1245.94,732.94 1246.29,732.57 1246.67,729.3 1247.05,729.76 1247.43,726.29 1247.77,726.01 1248.11,723.93 1248.46,723.52 1248.8,722.8 1249.14,721.14 1249.52,719.83 1249.9,720.46 1250.29,720 1250.67,719.6 1251.05,720.58 1251.43,721.71 1251.81,719.45 1252.19,720.24 1252.57,717.14 1252.91,716.21 1253.26,716.36 1253.6,717.54 1253.94,715.6 1254.29,716 1254.63,715.14 1254.97,716.4 1255.31,715.4 1255.66,716.4 1256,715.43 1256.32,715.12 1256.65,715.68 1256.97,713.9 1257.3,713.28 1257.62,713.54 1257.94,713.14 1258.31,714.54 1258.69,715.5 1259.06,715.82 1259.43,716.57 1259.77,717.1 1260.11,717.82 1260.46,718.96 1260.8,718.89 1261.14,720 1261.49,720.08 1261.83,720.63 1262.17,720.7 1262.51,723.1 1262.86,722.86 1263.18,721.52 1263.5,722.14 1263.83,721.5 1264.15,722.9 1264.48,721.31 1264.8,721.71 1265.1,718.03 1265.41,716.19 1265.71,714.86 1266.02,713.55 1266.32,712.97 1266.63,710.06 1267.01,713.22 1267.39,715.35 1267.77,717.14 1268.15,719.37 1268.53,721.57 1268.91,723.43 1269.23,724.7 1269.55,724.3 1269.87,724.37 1270.19,724.35 1270.51,725.14 1270.89,725.13 1271.26,722.06 1271.63,721.52 1272,719.43 1272.37,720.45 1272.74,720.31 1273.11,721.36 1273.49,723.43 1273.83,721.48 1274.17,718.88 1274.51,718.02 1274.86,717.14 1275.2,716.42 1275.54,717.54 1275.89,716.66 1276.23,715.55 1276.57,715.43 1276.95,713.36 1277.33,712.66 1277.71,712 1278.09,713.34 1278.46,715.43 1278.83,715.83 1279.2,715.43 1279.54,713.31 1279.89,712.01 1280.23,710.75 1280.57,709.71 1280.91,710.11 1281.26,709.11 1281.6,709.66 1281.94,708.74 1282.29,709.14 1282.67,707.34 1283.05,707.17 1283.43,706.29 1283.81,702.02 1284.19,700.98 1284.57,698.29 1284.95,699.72 1285.33,702.22 1285.71,704 1286.11,705.93 1286.51,709.71 1286.9,706.34 1287.28,706.66 1287.66,704 1288.04,706.96 1288.42,709.01 1288.8,713.71 1289.17,712.62 1289.54,712.02 1289.91,710.75 1290.29,709.14 1290.67,707.88 1291.05,704.95 1291.43,701.14 1291.81,701.91 1292.19,704.65 1292.57,705.71 1292.95,708.96 1293.33,709.65 1293.71,712.57 1294.1,715.07 1294.48,715.09 1294.86,718.86 1295.24,722.11 1295.62,723.09 1296,723.43 1296.34,722.05 1296.69,720.74 1297.03,721.87 1297.37,723.79 1297.71,721.14 1298.06,720.41 1298.4,720.79 1298.74,720.58 1299.09,719.13 1299.43,718.86 1299.8,717.75 1300.17,717.33 1300.54,717.62 1300.91,716.57 1301.26,717 1301.6,719.12 1301.94,719.59 1302.29,720.57 1302.63,720.05 1302.97,717.21 1303.31,716.7 1303.66,717.42 1304,715.43 1304.37,716.41 1304.74,716.56 1305.11,716.91 1305.49,718.86 1305.83,716.69 1306.17,711.53 1306.51,711.38 1306.86,706.29 1307.24,706.69 1307.62,705.31 1308,705.71 1308.38,705.56 1308.76,709.03 1309.14,710.29 1309.49,711.95 1309.83,711.17 1310.17,710.33 1310.51,713.04 1310.86,713.14 1311.2,715.36 1311.54,715.66 1311.89,717.56 1312.23,718.64 1312.57,719.43 1312.95,720.71 1313.33,722.01 1313.71,724 1314.06,724.38 1314.4,726.91 1314.74,725.87 1315.09,726.86 1315.46,725.83 1315.83,725.07 1316.2,724.62 1316.57,724 1316.91,723.57 1317.26,720.94 1317.6,722.3 1317.94,721.17 1318.29,718.86 1318.67,718.66 1319.05,717.55 1319.43,717.71 1319.77,718.28 1320.11,719.8 1320.46,720.79 1320.8,721.71 1321.17,719.29 1321.54,716.69 1321.91,715.46 1322.29,713.71 1322.67,711.36 1323.05,710.87 1323.43,708.57 1323.81,708.17 1324.19,710.19 1324.57,710.29 1324.94,711.71 1325.31,714.86 1325.69,715.54 1326.06,717.71 1326.4,715.38 1326.74,712.08 1327.09,710.12 1327.43,708 1327.77,708.31 1328.11,708.86 1328.46,709.48 1328.8,708.97 1329.14,710.29 1329.52,710.03 1329.9,708.18 1330.29,708.57 1330.66,710.63 1331.03,711.76 1331.4,713.66 1331.77,715.43 1332.15,713.82 1332.53,712.61 1332.91,708 1333.3,706.26 1333.68,703.96 1334.06,703.43 1334.4,707.34 1334.74,710.2 1335.09,712"/>
<rect class="b" x="1037.23" y="681.23" width="309.56" height="55.54"/>
<path class="b" d="M1048.43,736.77v12.67M1100.55,736.77v12.67M1152.66,736.77v12.67M1204.77,736.77v12.67M1256.89,736.77v12.67M1309,736.77v12.67M1037.23,683.13h-12.67M1037.23,693.49h-12.67M1037.23,703.85h-12.67M1037.23,714.21h-12.67M1037.23,724.57h-12.67M1037.23,734.93h-12.67M1048.43,736.77H1309M1037.23,683.13V734.93"/>
<text transform="translate(1048.43,782.38) rotate(0.1) scale(1,0.955)" text-anchor="middle">0</text>
<text transform="translate(1100.55,782.38) rotate(0.1) scale(1,0.955)" text-anchor="middle">200</text>
<text transform="translate(1204.77,782.38) rotate(0.1) scale(1,0.955)" text-anchor="middle">600</text>
<text transform="translate(1309,782.38) rotate(0.1) scale(1,0.955)" text-anchor="middle">1000</text>
<text transform="translate(1192.01,833.06) rotate(0.1) scale(1,0.955)" text-anchor="middle">p6x</text>
<text transform="translate(1006.42,735.48) rotate(-89.9) scale(1,0.955)" text-anchor="middle">0.0</text>
</g>
</svg>
</body></html>
